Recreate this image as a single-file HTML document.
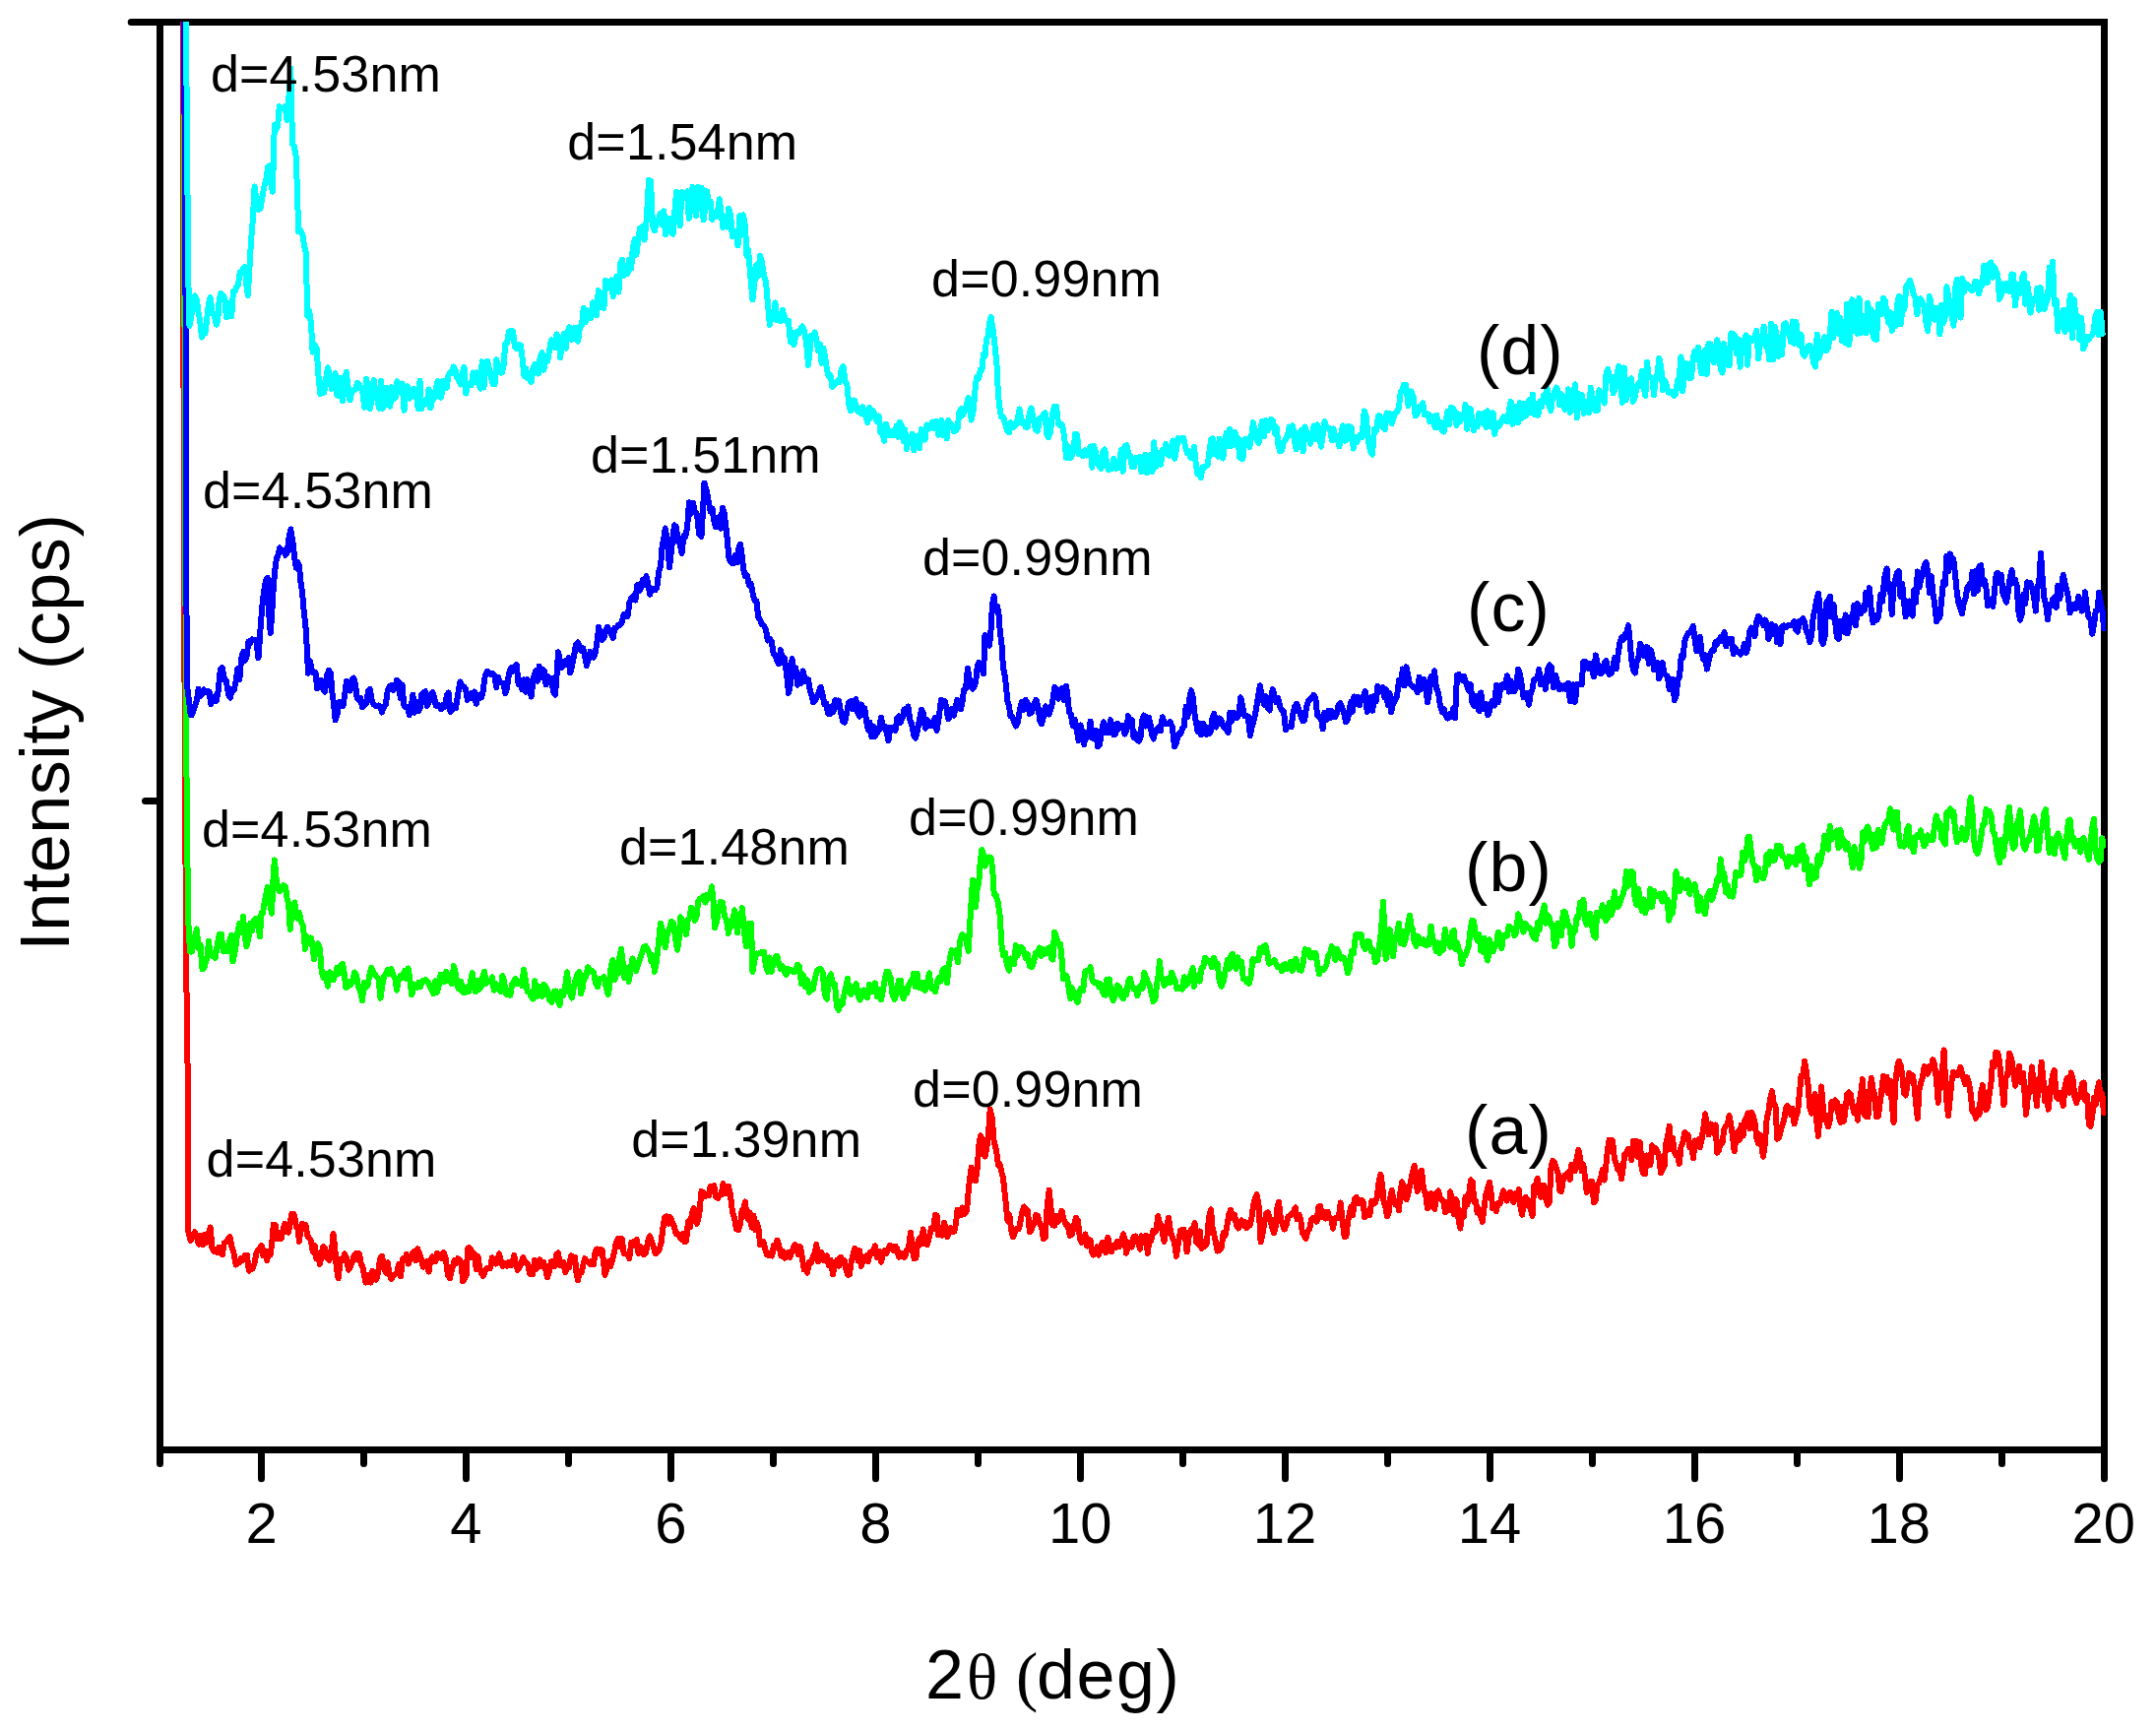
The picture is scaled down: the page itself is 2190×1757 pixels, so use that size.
<!DOCTYPE html>
<html lang="en">
<head>
<meta charset="utf-8">
<title>XRD patterns</title>
<style>
html,body{margin:0;padding:0;background:#fff;}
body{width:2190px;height:1757px;overflow:hidden;}
svg{display:block;}
text{font-family:"Liberation Sans",Arial,Helvetica,sans-serif;fill:#000;}
.ser{font-family:"Liberation Serif","Times New Roman",serif;}
</style>
</head>
<body>
<svg width="2190" height="1757" viewBox="0 0 2190 1757">
<rect width="2190" height="1757" fill="#fff"/>
<defs><clipPath id="plot"><rect x="166" y="22" width="1973" height="1447"/></clipPath></defs>
<g fill="none" stroke="#000" stroke-width="7" stroke-linecap="round" stroke-linejoin="miter">
<path d="M133.2,22.5 H2137.5 V1501.8" />
<path d="M162.5,22.5 V1486.5" />
<path d="M159.0,1472.5 H2137.5" stroke-linecap="butt"/>
<path d="M147.5,813.5 H162.5" />
<path d="M265.5,1472.5 V1501.8" />
<path d="M369.5,1472.5 V1486.5" />
<path d="M473.5,1472.5 V1501.8" />
<path d="M577.5,1472.5 V1486.5" />
<path d="M681.5,1472.5 V1501.8" />
<path d="M785.5,1472.5 V1486.5" />
<path d="M889.5,1472.5 V1501.8" />
<path d="M993.5,1472.5 V1486.5" />
<path d="M1097.5,1472.5 V1501.8" />
<path d="M1201.5,1472.5 V1486.5" />
<path d="M1305.5,1472.5 V1501.8" />
<path d="M1409.5,1472.5 V1486.5" />
<path d="M1513.5,1472.5 V1501.8" />
<path d="M1617.5,1472.5 V1486.5" />
<path d="M1721.5,1472.5 V1501.8" />
<path d="M1825.5,1472.5 V1486.5" />
<path d="M1929.5,1472.5 V1501.8" />
<path d="M2033.5,1472.5 V1486.5" />
</g>
<g fill="none" stroke-width="6" stroke-linejoin="round" stroke-linecap="round" shape-rendering="crispEdges" clip-path="url(#plot)">
<polyline points="185.9,20.0 186.2,300.0 187.8,780.0 189.4,1000.0 190.8,1100.0 191.2,1250.0 193.7,1260.0 198.0,1251.1 200.0,1257.1 202.0,1263.8 204.0,1254.9 206.0,1264.2 208.0,1253.6 210.0,1261.6 212.0,1252.7 213.7,1246.5 215.4,1267.1 217.1,1270.5 218.9,1268.6 220.6,1271.7 222.3,1267.1 224.0,1272.6 225.9,1274.1 227.8,1262.3 229.7,1261.2 231.6,1258.8 233.5,1255.8 235.5,1266.6 237.6,1273.3 239.6,1284.7 241.4,1280.7 243.3,1281.7 245.1,1277.9 247.0,1279.6 248.8,1275.1 250.8,1274.6 252.9,1290.6 254.9,1289.2 256.7,1288.2 258.5,1283.2 260.2,1273.5 262.0,1269.4 263.8,1267.8 265.6,1265.1 267.5,1275.4 269.3,1270.5 271.1,1280.1 273.0,1274.5 274.6,1274.6 276.2,1263.4 277.8,1243.5 279.7,1244.3 281.6,1258.4 283.6,1252.0 285.5,1258.3 287.3,1250.3 289.2,1242.7 291.0,1250.9 292.9,1251.7 294.7,1242.8 296.2,1232.8 297.8,1232.6 299.3,1235.2 300.8,1246.3 302.4,1245.5 303.9,1260.7 305.4,1249.8 307.0,1243.0 308.5,1247.6 310.4,1243.6 312.2,1255.0 314.1,1257.5 316.0,1260.2 317.8,1271.5 319.6,1265.0 321.4,1278.6 323.2,1273.5 325.0,1284.0 326.7,1272.3 328.3,1266.1 330.0,1267.2 332.2,1277.8 334.5,1279.8 336.5,1275.5 338.5,1253.0 340.2,1267.5 342.0,1289.6 343.7,1298.3 345.9,1279.1 348.0,1279.9 350.0,1273.4 352.0,1277.2 354.0,1289.6 356.0,1286.2 357.8,1281.6 359.6,1275.1 361.4,1273.0 363.2,1279.4 365.0,1273.2 366.6,1283.4 368.1,1285.4 369.7,1293.4 371.4,1302.6 373.1,1294.6 374.9,1296.7 376.6,1302.5 378.3,1290.8 380.0,1293.9 382.0,1299.7 384.0,1293.5 386.0,1278.6 388.0,1275.7 389.9,1285.9 391.9,1292.6 393.8,1282.3 395.7,1294.9 397.5,1299.2 399.4,1295.8 401.2,1294.0 403.0,1293.4 405.0,1284.1 407.0,1296.1 409.0,1278.4 411.0,1280.3 412.9,1273.8 414.8,1283.6 416.6,1279.1 418.5,1273.3 420.4,1270.8 422.2,1280.2 424.1,1268.1 426.0,1273.1 427.9,1279.0 429.8,1286.7 431.7,1284.9 433.6,1281.3 435.5,1291.5 437.2,1281.0 438.9,1276.3 440.6,1279.5 442.3,1281.3 444.0,1273.0 445.7,1273.7 447.4,1275.8 449.1,1278.2 450.8,1272.2 452.9,1279.1 454.9,1294.7 457.0,1298.1 459.2,1289.0 461.5,1280.2 463.2,1283.1 465.0,1278.2 466.8,1279.4 468.5,1282.2 470.2,1301.3 472.0,1298.8 473.6,1295.0 475.2,1267.7 476.8,1267.2 478.5,1269.2 480.3,1277.2 482.0,1273.4 483.8,1289.2 485.5,1276.1 487.3,1288.1 489.0,1292.9 490.8,1296.0 492.6,1291.0 494.4,1288.3 496.2,1287.9 498.0,1288.0 499.8,1277.2 501.6,1280.7 503.4,1283.5 505.2,1281.8 507.0,1273.3 509.0,1281.9 511.0,1285.9 513.0,1283.3 515.0,1285.8 516.8,1282.0 518.6,1284.9 520.4,1284.8 522.2,1274.7 524.0,1284.1 525.8,1289.9 527.6,1287.2 529.4,1283.8 531.2,1277.1 533.0,1280.6 534.6,1283.0 536.3,1283.6 538.0,1293.8 539.6,1287.1 541.3,1294.0 543.1,1279.7 544.8,1288.7 546.6,1285.2 548.3,1279.4 550.1,1286.5 551.8,1281.6 553.9,1287.7 555.9,1297.3 558.0,1291.6 559.8,1281.3 561.6,1282.9 563.4,1286.0 565.2,1273.8 567.0,1272.5 568.8,1285.2 570.6,1283.3 572.4,1281.8 574.2,1292.3 576.0,1286.1 578.0,1287.3 580.0,1275.4 582.0,1276.2 584.0,1276.8 585.5,1293.0 587.0,1300.4 588.8,1291.8 590.6,1292.3 592.4,1284.4 594.1,1278.1 595.9,1281.5 597.7,1281.5 599.4,1284.0 601.2,1280.7 602.9,1284.2 604.6,1271.2 606.3,1268.5 608.0,1272.7 609.8,1268.8 611.5,1269.4 613.0,1281.4 614.5,1294.9 616.4,1289.1 618.2,1281.3 620.1,1286.2 622.0,1279.8 624.0,1271.5 625.9,1261.6 627.8,1257.7 629.8,1266.4 631.7,1257.9 633.6,1273.0 635.6,1273.6 637.5,1273.8 639.3,1278.2 641.2,1261.8 643.0,1261.4 644.9,1264.7 646.7,1258.7 648.5,1272.8 650.4,1266.0 652.2,1268.2 654.0,1274.4 656.0,1272.7 658.0,1261.2 660.0,1255.2 661.9,1260.4 663.8,1266.7 665.8,1273.1 667.7,1271.7 669.6,1269.3 671.5,1262.5 673.3,1248.1 675.1,1236.0 677.0,1235.4 678.9,1242.6 680.8,1236.0 682.7,1240.8 684.6,1245.2 686.5,1252.8 688.2,1252.4 690.0,1255.1 691.8,1258.6 693.5,1253.1 695.2,1261.3 697.0,1260.7 699.0,1240.4 701.0,1246.5 703.0,1231.6 704.7,1227.0 706.3,1236.9 708.0,1242.9 710.2,1233.8 712.5,1209.9 714.3,1211.0 716.2,1215.4 718.0,1212.7 719.9,1214.2 721.7,1204.7 723.5,1210.0 725.4,1204.2 727.2,1215.7 729.0,1216.9 730.8,1214.3 732.7,1213.4 734.5,1202.1 736.3,1212.2 738.2,1211.4 740.0,1204.8 742.0,1213.9 744.0,1231.2 746.0,1237.1 748.0,1248.1 750.0,1249.2 752.0,1243.5 753.6,1229.1 755.3,1227.2 756.9,1220.5 758.5,1234.2 760.0,1238.6 761.8,1231.5 763.6,1246.7 765.4,1234.6 767.2,1249.1 769.0,1242.0 770.6,1249.0 772.1,1264.1 773.7,1262.8 775.5,1261.2 777.4,1269.3 779.2,1274.5 781.0,1275.1 782.6,1273.2 784.2,1275.5 785.9,1265.1 787.5,1267.0 789.5,1259.7 791.6,1266.3 793.6,1275.7 795.4,1270.8 797.1,1277.8 798.9,1275.2 800.7,1272.2 802.5,1277.0 804.2,1271.0 806.0,1267.3 807.5,1263.9 809.0,1266.1 811.0,1274.4 813.0,1266.1 815.0,1278.7 816.7,1289.4 818.3,1286.9 820.0,1292.7 821.9,1281.6 823.8,1282.6 825.6,1277.1 827.5,1272.9 829.3,1264.0 831.0,1281.4 832.8,1273.8 834.5,1272.2 836.3,1279.9 838.0,1276.1 839.8,1275.4 841.9,1285.0 843.9,1279.9 846.0,1294.1 848.2,1283.1 850.5,1279.6 852.2,1285.9 854.0,1276.8 855.8,1283.3 857.5,1279.8 859.2,1288.1 861.0,1294.8 862.8,1294.6 864.6,1282.4 866.4,1274.9 868.2,1268.0 870.0,1270.1 871.6,1280.6 873.2,1270.2 874.9,1285.8 876.5,1280.4 878.3,1277.0 880.0,1275.3 881.8,1281.3 883.5,1272.5 885.3,1270.9 887.0,1273.4 888.8,1265.4 890.9,1277.4 892.9,1270.6 895.0,1281.7 896.8,1274.0 898.6,1269.9 900.4,1272.8 902.2,1268.0 904.0,1264.9 905.8,1266.3 907.6,1270.3 909.4,1265.6 911.2,1268.3 913.0,1276.7 915.0,1276.4 917.0,1272.8 919.0,1276.9 921.0,1270.0 923.0,1267.9 925.0,1251.6 926.8,1269.1 928.6,1278.3 930.4,1277.8 932.2,1262.4 934.1,1257.5 935.9,1263.5 937.7,1248.5 939.8,1263.0 941.8,1264.0 943.9,1256.7 945.9,1247.2 948.0,1247.9 950.0,1233.5 951.5,1234.5 953.1,1253.9 954.6,1253.3 956.8,1254.7 959.0,1241.5 960.6,1247.2 962.2,1256.3 963.8,1252.7 965.6,1247.0 967.4,1251.1 969.2,1250.7 971.0,1242.9 972.6,1228.7 974.2,1232.7 975.9,1234.2 977.5,1226.5 979.8,1232.9 982.0,1229.8 983.6,1210.6 985.1,1197.0 986.7,1185.6 988.9,1195.3 991.0,1199.1 992.7,1185.9 994.3,1164.0 996.0,1153.2 998.2,1158.4 1000.5,1174.5 1002.2,1166.4 1004.0,1151.5 1005.7,1126.4 1007.7,1135.1 1009.7,1160.1 1011.9,1167.6 1014.0,1183.0 1015.6,1182.6 1017.3,1190.3 1018.9,1196.1 1021.1,1216.1 1023.4,1239.6 1025.3,1233.8 1027.2,1250.0 1029.1,1256.4 1031.0,1251.1 1033.0,1248.1 1035.0,1248.1 1037.0,1237.8 1038.6,1229.6 1040.2,1225.5 1041.8,1228.1 1043.9,1229.3 1046.0,1251.5 1047.6,1249.6 1049.2,1244.0 1050.9,1242.9 1052.5,1233.8 1054.3,1235.2 1056.2,1243.0 1058.0,1245.5 1059.9,1258.4 1061.7,1256.7 1063.7,1225.1 1065.7,1208.7 1067.6,1227.8 1069.4,1244.3 1071.2,1244.7 1073.0,1234.6 1074.9,1240.7 1076.7,1237.6 1078.5,1229.8 1080.6,1238.4 1082.6,1244.0 1084.7,1244.1 1086.8,1255.0 1089.0,1253.1 1091.0,1244.2 1093.0,1236.7 1095.0,1239.7 1097.0,1258.7 1098.8,1261.9 1100.6,1261.0 1102.4,1253.4 1104.2,1265.6 1106.0,1258.5 1107.6,1259.7 1109.1,1271.2 1110.7,1274.6 1112.5,1271.8 1114.4,1266.4 1116.2,1274.6 1118.1,1265.4 1119.9,1261.8 1121.7,1266.5 1123.5,1272.2 1125.4,1256.8 1127.2,1269.3 1129.0,1271.1 1130.9,1264.6 1132.8,1267.2 1134.8,1260.9 1136.7,1266.3 1138.8,1260.8 1141.0,1253.4 1142.5,1258.5 1144.0,1272.7 1145.9,1266.3 1147.8,1261.9 1149.7,1266.6 1151.6,1255.8 1153.5,1255.5 1155.8,1261.0 1158.0,1268.8 1159.6,1255.4 1161.1,1261.8 1162.7,1259.3 1164.2,1254.8 1165.8,1272.9 1167.5,1258.6 1169.3,1259.8 1171.0,1250.1 1172.8,1251.6 1174.5,1249.4 1176.3,1235.1 1178.0,1242.7 1179.5,1244.4 1181.1,1253.4 1182.6,1260.9 1184.8,1246.9 1187.0,1236.8 1189.0,1250.3 1191.0,1257.4 1192.9,1261.3 1194.9,1275.9 1196.9,1262.7 1199.0,1249.9 1201.0,1248.7 1202.5,1248.8 1204.1,1256.8 1205.6,1271.3 1207.8,1255.0 1210.0,1248.5 1211.8,1252.0 1213.5,1242.1 1215.2,1261.6 1217.0,1263.5 1218.8,1250.4 1220.5,1268.0 1222.2,1262.1 1224.0,1265.8 1226.0,1261.9 1228.0,1236.1 1230.0,1228.2 1231.5,1246.5 1233.1,1253.3 1234.6,1259.7 1236.7,1270.6 1238.7,1269.7 1240.8,1266.9 1242.6,1252.4 1244.5,1254.9 1246.3,1245.2 1248.2,1233.9 1250.0,1228.6 1252.0,1237.2 1254.0,1234.0 1256.0,1244.4 1257.7,1247.5 1259.4,1243.2 1261.1,1239.3 1262.9,1244.6 1264.6,1241.2 1266.3,1247.2 1268.0,1242.1 1269.7,1244.5 1271.3,1237.4 1273.0,1225.1 1274.8,1216.9 1276.6,1213.3 1278.4,1222.4 1280.6,1261.2 1282.4,1253.6 1284.3,1241.6 1286.2,1232.7 1288.0,1231.3 1290.0,1237.9 1292.0,1245.5 1294.0,1252.2 1295.7,1246.2 1297.3,1226.8 1299.0,1220.7 1300.9,1237.9 1302.8,1243.0 1304.7,1248.6 1306.6,1243.9 1308.4,1235.5 1310.3,1234.7 1312.2,1232.9 1314.0,1230.7 1315.8,1226.4 1317.6,1238.2 1319.4,1233.6 1321.1,1237.8 1322.9,1252.3 1324.7,1254.0 1326.5,1258.2 1328.3,1250.5 1330.2,1248.1 1332.0,1239.0 1333.9,1237.1 1335.7,1237.9 1337.5,1240.6 1339.3,1225.6 1341.2,1225.2 1343.0,1236.4 1344.8,1230.7 1346.6,1237.5 1348.5,1230.6 1350.3,1237.4 1352.2,1237.5 1354.0,1247.7 1355.9,1237.1 1357.8,1236.7 1359.8,1237.3 1361.7,1221.4 1363.7,1239.4 1365.7,1256.2 1367.4,1255.5 1369.1,1240.5 1370.7,1233.3 1372.4,1226.0 1374.2,1234.3 1375.9,1217.8 1377.7,1215.8 1379.5,1222.4 1381.2,1218.8 1383.0,1218.7 1384.6,1220.6 1386.1,1236.4 1387.7,1234.9 1389.5,1229.8 1391.4,1234.1 1393.2,1220.0 1395.1,1220.2 1396.9,1222.0 1398.7,1215.5 1400.6,1200.1 1402.4,1192.8 1404.1,1204.1 1405.7,1221.4 1407.3,1225.6 1409.0,1235.3 1410.6,1231.2 1412.1,1217.5 1413.7,1208.8 1415.5,1218.3 1417.3,1223.2 1419.2,1220.0 1421.0,1229.2 1422.5,1210.7 1424.0,1200.4 1425.6,1203.2 1427.2,1215.8 1428.9,1218.1 1430.5,1211.7 1432.6,1201.8 1434.6,1192.2 1436.7,1183.8 1438.2,1196.1 1439.7,1210.0 1441.8,1191.6 1444.0,1188.8 1446.0,1207.3 1448.0,1212.1 1450.0,1227.0 1451.8,1223.1 1453.7,1211.9 1455.5,1225.9 1457.3,1227.9 1459.2,1211.2 1461.0,1209.5 1462.8,1217.0 1464.5,1218.6 1466.2,1220.0 1468.0,1231.3 1469.8,1223.9 1471.5,1228.8 1473.2,1210.4 1475.0,1223.2 1476.7,1233.0 1478.3,1217.6 1480.0,1220.4 1481.7,1240.4 1483.3,1247.5 1485.0,1234.6 1486.8,1235.8 1488.6,1215.4 1490.4,1223.4 1492.2,1213.2 1494.0,1198.4 1495.7,1200.2 1497.3,1220.2 1499.0,1219.7 1500.7,1231.8 1502.3,1228.0 1504.0,1234.4 1505.8,1241.0 1507.6,1225.6 1509.4,1213.2 1511.2,1206.7 1513.0,1200.9 1514.7,1212.7 1516.3,1227.5 1518.0,1224.8 1519.8,1230.3 1521.6,1221.9 1523.4,1222.6 1525.2,1217.2 1527.0,1209.3 1528.8,1216.4 1530.5,1219.6 1532.2,1212.7 1534.0,1211.0 1535.8,1217.1 1537.5,1220.9 1539.2,1212.3 1541.0,1214.7 1542.7,1208.2 1544.5,1225.4 1546.2,1233.7 1547.9,1219.4 1549.6,1215.7 1551.3,1218.4 1553.1,1225.9 1554.8,1226.9 1556.5,1234.8 1558.2,1204.2 1560.0,1203.7 1561.7,1196.7 1563.4,1209.0 1565.1,1215.8 1566.8,1203.8 1568.6,1204.3 1570.3,1218.0 1572.0,1223.7 1573.8,1220.4 1575.6,1184.8 1577.4,1178.9 1579.1,1180.7 1580.8,1186.5 1582.6,1191.9 1584.3,1209.4 1586.0,1209.9 1587.8,1198.0 1589.5,1193.6 1591.2,1192.6 1593.0,1190.5 1594.7,1198.0 1596.4,1182.9 1598.1,1185.6 1599.9,1189.1 1601.6,1176.8 1603.3,1167.7 1605.0,1175.4 1606.7,1189.3 1608.3,1182.6 1610.0,1195.4 1611.8,1210.9 1613.6,1202.7 1615.4,1200.1 1617.2,1199.8 1619.0,1221.5 1620.8,1218.6 1622.5,1202.8 1624.3,1201.6 1626.0,1196.4 1627.8,1188.1 1629.5,1198.6 1631.2,1184.8 1632.9,1168.7 1634.6,1157.6 1636.3,1164.5 1638.0,1158.3 1639.8,1176.1 1641.6,1182.2 1643.4,1187.8 1645.2,1184.4 1647.0,1197.2 1648.7,1185.5 1650.3,1172.3 1652.0,1171.8 1653.8,1166.8 1655.5,1169.4 1657.3,1178.1 1659.1,1158.6 1660.8,1165.0 1662.6,1159.0 1664.3,1175.4 1666.0,1160.3 1667.6,1186.4 1669.3,1191.9 1671.0,1192.0 1672.8,1173.5 1674.6,1174.9 1676.4,1183.0 1678.1,1163.4 1679.9,1169.9 1681.7,1166.2 1683.5,1169.4 1685.2,1174.9 1687.0,1191.1 1688.7,1188.4 1690.5,1184.7 1692.2,1161.2 1694.0,1155.0 1695.7,1143.6 1697.3,1167.4 1699.0,1155.9 1700.7,1169.3 1702.3,1173.4 1704.0,1172.9 1705.8,1182.0 1707.6,1164.4 1709.4,1160.3 1711.2,1150.1 1713.0,1152.0 1714.8,1152.6 1716.5,1165.6 1718.3,1163.4 1720.0,1176.4 1721.7,1158.5 1723.5,1160.8 1725.2,1157.3 1726.9,1165.2 1728.7,1156.4 1730.4,1144.6 1732.1,1131.3 1733.8,1142.2 1735.6,1152.3 1737.3,1141.4 1739.0,1150.4 1740.8,1151.3 1742.5,1142.4 1744.3,1170.7 1746.0,1168.5 1747.8,1159.7 1749.5,1161.0 1751.3,1146.9 1753.0,1143.6 1754.8,1142.3 1756.5,1133.1 1758.2,1141.9 1760.0,1153.8 1761.7,1169.2 1763.5,1155.7 1765.2,1149.2 1767.0,1158.0 1768.7,1142.6 1770.5,1153.6 1772.2,1138.6 1774.0,1134.9 1775.7,1130.4 1777.4,1146.1 1779.2,1129.8 1780.9,1133.9 1782.6,1140.7 1784.3,1155.5 1786.0,1161.2 1787.6,1152.3 1789.3,1163.0 1791.0,1174.8 1792.8,1161.3 1794.6,1136.8 1796.4,1128.9 1798.2,1115.6 1800.0,1108.1 1801.8,1121.5 1803.5,1123.6 1805.2,1156.6 1807.0,1155.6 1808.8,1148.1 1810.5,1142.9 1812.2,1137.3 1814.0,1125.9 1815.7,1122.9 1817.4,1125.7 1819.2,1132.0 1820.9,1125.8 1822.6,1141.3 1824.3,1134.7 1826.1,1129.0 1827.8,1111.0 1829.6,1092.5 1831.3,1093.2 1833.1,1077.9 1834.8,1088.2 1836.5,1101.4 1838.3,1124.5 1840.0,1130.6 1841.8,1120.2 1843.5,1111.1 1845.2,1137.8 1847.0,1153.8 1848.5,1131.6 1850.0,1103.4 1851.8,1124.3 1853.5,1137.4 1855.2,1137.7 1857.0,1144.1 1858.8,1137.3 1860.5,1119.2 1862.2,1125.3 1864.0,1117.3 1865.9,1119.7 1867.7,1133.1 1869.6,1140.1 1871.3,1123.6 1873.0,1138.9 1874.6,1126.5 1876.3,1111.1 1878.0,1109.4 1879.8,1111.6 1881.6,1123.7 1883.4,1130.2 1885.2,1124.1 1887.0,1137.6 1888.7,1118.0 1890.3,1110.3 1892.0,1096.0 1893.8,1132.3 1895.6,1134.3 1897.4,1134.5 1899.1,1110.1 1900.9,1094.8 1902.6,1107.1 1904.3,1111.0 1906.0,1134.0 1907.8,1133.7 1909.5,1121.3 1911.2,1107.9 1913.0,1092.5 1914.8,1106.7 1916.5,1093.7 1918.2,1110.3 1920.0,1097.5 1921.8,1120.2 1923.5,1140.0 1925.2,1101.4 1927.0,1084.1 1928.8,1077.6 1930.5,1081.6 1932.2,1090.6 1934.0,1110.3 1935.7,1112.4 1937.4,1102.0 1939.2,1089.8 1940.9,1096.2 1942.6,1091.8 1944.3,1100.1 1946.1,1120.0 1947.8,1135.9 1949.5,1106.8 1951.3,1098.9 1953.0,1093.6 1954.8,1083.0 1956.5,1087.5 1958.2,1090.6 1960.0,1082.8 1961.7,1085.2 1963.3,1076.2 1965.0,1080.9 1966.8,1094.6 1968.7,1119.8 1970.7,1090.3 1972.6,1091.1 1974.6,1066.4 1976.8,1113.4 1979.0,1133.3 1980.7,1116.2 1982.3,1099.7 1984.0,1088.6 1985.8,1091.2 1987.6,1092.3 1989.4,1091.4 1991.2,1083.8 1993.0,1089.9 1994.8,1096.6 1996.5,1101.4 1998.2,1094.2 2000.0,1100.0 2001.8,1111.3 2003.5,1128.8 2005.2,1127.7 2007.0,1136.0 2008.8,1127.0 2010.5,1132.3 2012.2,1110.1 2014.0,1102.0 2015.7,1118.3 2017.3,1127.5 2019.0,1124.7 2020.7,1110.9 2022.3,1101.6 2024.0,1079.2 2025.8,1083.2 2027.5,1068.7 2029.2,1069.2 2031.0,1077.3 2033.2,1100.8 2035.5,1122.2 2037.3,1093.9 2039.2,1092.6 2041.0,1069.9 2043.0,1074.3 2045.0,1087.5 2047.0,1102.6 2049.0,1092.0 2051.0,1082.5 2053.0,1099.3 2055.0,1089.6 2056.5,1109.6 2058.0,1131.8 2060.0,1111.6 2062.0,1108.3 2064.0,1083.4 2065.7,1103.7 2067.3,1109.4 2069.0,1123.2 2070.6,1096.1 2072.1,1102.6 2073.7,1078.6 2075.4,1096.1 2077.2,1118.5 2078.9,1105.4 2080.7,1126.7 2082.8,1106.8 2085.0,1091.7 2086.8,1087.2 2088.6,1113.5 2090.3,1116.1 2092.1,1109.8 2093.9,1113.4 2095.7,1122.8 2097.7,1102.5 2099.7,1094.7 2101.7,1109.8 2103.7,1089.5 2105.6,1097.2 2107.4,1113.7 2109.3,1120.0 2111.1,1112.1 2113.0,1114.2 2114.8,1100.7 2116.5,1099.5 2118.2,1117.3 2120.0,1112.1 2121.8,1141.8 2123.5,1144.1 2125.2,1134.0 2126.9,1114.9 2128.7,1122.0 2130.4,1107.3 2132.1,1099.2 2133.7,1116.4 2135.3,1111.0 2137.0,1129.9" stroke="#ff0000"/>
<polyline points="187.2,20.0 187.4,300.0 188.8,700.0 190.0,850.0 191.5,940.0 193.0,966.5 195.0,966.5 199.8,943.5 201.7,962.8 203.6,959.6 205.5,984.2 207.4,983.2 208.9,976.7 210.5,973.0 212.0,955.9 213.5,968.7 215.1,970.6 216.6,968.1 218.6,973.0 220.7,960.0 222.7,949.1 224.8,948.9 226.8,966.3 228.9,964.2 230.9,966.0 233.0,956.6 235.0,949.6 236.5,976.4 238.8,965.8 241.0,949.1 243.0,938.1 245.0,947.0 247.0,930.9 248.7,950.5 250.3,961.5 252.2,954.0 254.2,937.7 256.1,945.4 258.0,934.5 260.0,932.6 262.0,935.9 264.0,951.3 265.5,927.9 267.0,927.9 268.6,916.5 270.1,909.5 271.7,901.1 273.9,916.0 276.0,927.8 277.4,895.3 278.8,873.4 280.6,891.5 282.4,903.0 284.3,905.4 286.2,902.9 288.1,899.2 290.0,900.7 291.6,912.9 293.1,917.4 294.7,944.0 296.2,928.9 297.8,923.3 299.3,916.5 300.8,929.2 302.4,932.7 303.9,926.8 305.9,935.8 308.0,940.8 310.0,964.0 312.0,951.4 314.0,956.9 316.0,952.5 317.5,961.4 319.0,974.3 321.0,965.4 323.0,958.2 325.0,963.8 326.8,988.0 328.9,992.9 330.9,989.0 333.0,1001.9 334.9,987.3 336.8,990.7 338.7,995.3 340.6,989.2 342.5,982.6 344.3,988.8 346.1,980.2 348.0,978.9 349.6,987.5 351.2,1002.7 352.8,1002.4 354.6,997.1 356.5,999.7 358.3,995.7 360.2,987.5 362.0,990.8 364.0,1002.4 366.0,1006.2 368.0,1016.4 369.8,997.9 371.6,1003.0 373.4,1001.2 375.3,990.8 377.1,982.9 378.9,986.9 380.8,989.7 382.7,992.4 384.6,993.8 386.5,1013.7 388.3,1001.2 390.2,991.8 392.0,988.9 393.9,984.9 395.7,988.7 397.5,983.9 399.4,991.0 401.2,992.7 403.0,1005.7 405.0,994.1 407.0,990.8 409.0,992.5 411.0,986.1 412.8,993.9 414.6,983.4 416.4,995.7 418.2,1010.5 420.0,1004.3 421.8,1000.1 423.6,1002.8 425.4,997.6 427.2,1002.0 429.0,996.2 430.9,996.3 432.8,995.0 434.7,997.6 436.6,1001.3 438.5,1004.7 440.3,1009.3 442.2,996.2 444.0,1007.8 445.9,999.9 447.7,989.6 449.6,994.6 451.4,997.3 453.3,986.6 455.1,996.1 457.0,992.3 459.0,999.3 461.0,981.1 463.0,989.3 464.8,1002.5 466.6,1004.5 468.4,997.1 470.2,1007.9 472.0,1008.4 474.0,1002.8 476.0,1007.3 478.0,997.2 479.7,988.2 481.3,999.6 483.0,1007.4 484.8,995.9 486.6,1004.9 488.4,1003.1 490.2,992.6 492.0,986.6 493.6,999.0 495.1,996.3 496.7,996.9 498.4,995.2 500.1,992.5 501.8,1005.8 503.5,998.9 505.2,1002.3 506.9,1004.3 508.6,1007.1 510.3,991.1 512.0,996.1 513.5,1008.5 515.1,1010.2 516.6,1007.9 518.3,1010.6 520.1,999.9 521.8,997.7 523.5,994.0 525.3,999.1 527.0,997.4 528.7,996.4 530.3,1001.4 532.0,984.5 533.9,995.2 535.8,1007.3 537.7,1008.0 539.6,1012.3 541.5,1014.4 543.3,996.4 545.1,1012.0 547.0,1001.9 548.8,1008.7 550.7,1011.7 552.5,999.7 554.3,1001.7 556.2,1006.5 558.0,1015.5 560.2,1018.0 562.5,1007.1 564.5,1006.4 566.6,1015.8 568.6,1020.9 570.5,1006.8 572.3,1011.2 574.1,1002.2 576.0,987.3 577.7,1002.0 579.3,1009.0 581.0,1013.5 583.0,1001.4 585.0,993.6 587.0,988.4 588.5,987.1 590.1,1009.5 591.6,1004.0 593.5,991.2 595.3,991.8 597.1,982.3 599.0,984.5 601.0,986.1 603.0,987.5 605.0,998.0 607.0,1002.1 609.2,994.1 611.5,994.1 613.5,992.1 615.6,1001.8 617.6,1009.8 619.2,1003.1 620.7,980.5 622.5,974.9 624.4,995.4 626.2,989.0 628.0,988.2 629.5,971.3 631.0,963.9 632.8,978.0 634.5,993.4 636.5,982.9 638.6,996.8 640.6,985.0 642.5,973.4 644.4,980.2 646.2,986.0 648.1,979.4 650.0,974.4 652.0,968.3 654.0,961.8 656.0,961.1 657.8,964.3 659.6,967.4 661.4,976.4 663.2,970.4 665.0,986.9 667.0,975.8 669.0,957.7 671.0,937.6 672.6,943.9 674.2,947.5 675.8,962.3 677.9,948.4 679.9,943.1 682.0,935.6 684.0,937.3 686.0,952.6 688.0,964.8 689.5,954.8 691.1,931.4 692.6,934.0 694.8,942.1 697.0,949.0 698.7,934.6 700.3,932.4 702.0,921.8 704.0,923.5 706.0,935.0 707.6,930.1 709.2,915.5 710.9,913.1 712.5,912.2 714.5,910.1 716.6,916.5 718.6,908.6 720.8,911.7 723.0,900.4 724.5,914.3 726.0,942.3 728.0,936.5 730.0,925.1 732.0,915.5 734.0,916.9 736.0,930.8 738.0,934.5 740.0,948.0 742.0,935.3 744.0,940.3 746.0,924.4 747.5,930.4 749.0,947.2 750.6,933.5 752.2,938.5 753.8,922.2 755.9,947.1 758.0,961.5 759.7,959.8 761.3,937.7 763.0,937.8 764.5,987.1 766.4,975.0 768.2,968.4 770.1,968.6 772.0,968.0 774.0,966.8 776.0,966.9 778.0,981.2 779.9,986.8 781.8,972.5 783.7,987.0 785.6,977.1 787.5,972.3 789.3,970.8 791.2,979.2 793.0,984.4 794.9,981.5 796.7,986.8 798.6,989.8 800.4,983.7 802.3,986.3 804.1,985.2 806.0,987.0 808.0,986.6 810.0,979.6 812.0,981.8 814.0,999.2 816.0,990.0 818.0,1002.2 819.9,995.0 821.8,1007.7 823.7,999.6 825.6,1004.9 827.5,995.3 829.6,986.6 831.6,984.5 833.7,984.1 835.7,987.7 837.8,1010.3 839.8,1014.6 841.9,994.1 844.0,989.4 846.0,999.9 848.0,999.2 850.0,1022.1 852.0,1025.9 853.8,1016.9 855.6,1019.9 857.4,1010.6 859.2,1002.7 861.0,993.6 862.8,1008.2 864.6,1009.7 866.4,1002.5 868.1,1003.3 869.9,999.2 871.7,1012.2 873.5,1015.5 875.4,1008.7 877.3,1005.5 879.2,1010.9 881.1,1013.4 883.1,999.8 885.0,1000.9 886.9,1007.0 888.8,998.4 890.9,1012.3 892.9,1005.3 895.0,1015.3 896.9,1005.8 898.8,994.8 900.6,986.6 902.5,987.1 904.6,993.2 906.6,1010.2 908.7,1014.9 910.7,1008.6 912.8,996.1 914.8,995.6 916.3,1009.4 917.8,1014.2 919.5,1004.1 921.2,1008.8 923.0,1000.8 924.7,997.0 926.4,998.0 928.1,988.6 929.9,1002.0 931.6,988.8 933.6,1003.0 935.7,1003.7 937.7,998.1 939.8,1006.0 941.8,999.2 943.9,988.3 945.9,1003.7 948.0,1003.6 950.0,1007.3 951.9,997.4 953.8,993.1 955.7,996.5 957.6,985.1 959.8,983.3 962.0,998.5 963.6,981.1 965.2,972.2 966.8,965.0 968.9,967.9 970.9,965.6 973.0,977.3 975.2,955.2 977.5,948.9 979.6,950.8 981.6,955.9 983.7,966.1 985.9,926.6 988.0,893.6 989.5,902.3 991.0,921.5 992.6,902.6 994.2,897.0 995.8,873.7 997.4,863.1 999.0,868.0 1000.5,879.7 1002.5,874.4 1004.6,870.5 1006.6,871.1 1008.2,883.0 1009.7,908.1 1011.7,909.4 1013.8,916.5 1015.8,931.3 1017.3,958.3 1018.9,969.9 1020.9,967.7 1023.0,980.6 1025.0,985.8 1026.7,973.5 1028.4,975.9 1030.1,979.2 1031.9,960.1 1033.6,970.7 1035.3,966.3 1037.0,961.8 1038.6,963.2 1040.2,967.3 1041.8,972.8 1043.9,969.5 1045.9,981.1 1048.0,982.4 1050.0,977.3 1052.0,967.6 1054.0,969.2 1055.8,962.5 1057.6,971.0 1059.4,963.7 1061.2,968.8 1063.0,966.5 1064.6,962.7 1066.2,962.1 1067.8,973.0 1069.4,974.4 1071.0,946.9 1073.0,951.3 1075.0,958.9 1077.0,958.6 1078.5,973.3 1080.0,994.0 1081.8,992.6 1083.6,991.2 1085.4,1001.7 1087.2,1014.0 1089.0,1003.4 1090.8,1011.6 1092.7,1013.1 1094.6,1018.2 1096.5,1006.2 1098.4,1003.5 1100.2,1005.9 1102.1,987.0 1103.9,985.5 1105.8,986.1 1107.6,982.2 1109.8,996.6 1112.0,998.3 1114.0,997.6 1116.0,1001.8 1117.9,999.2 1119.9,1006.7 1121.4,1010.3 1123.0,1010.6 1124.5,994.7 1126.8,994.4 1129.0,1011.4 1130.9,1016.1 1132.8,1010.4 1134.8,1000.5 1136.7,1002.4 1138.8,1011.2 1141.0,1014.4 1142.6,1005.9 1144.3,1010.0 1145.9,996.8 1147.9,993.7 1150.0,1002.6 1152.0,1004.9 1153.7,1004.4 1155.4,1011.1 1157.1,1002.3 1158.9,1000.9 1160.6,1003.9 1162.3,987.9 1164.0,992.5 1165.9,997.3 1167.8,1001.1 1169.6,1008.5 1171.5,1017.1 1173.4,1015.0 1174.9,1000.8 1176.5,991.5 1178.0,976.1 1179.5,993.5 1181.1,993.8 1182.6,1000.9 1184.4,995.5 1186.3,993.6 1188.1,998.1 1190.0,987.9 1191.8,992.0 1193.6,996.2 1195.5,1004.3 1197.3,1002.9 1199.2,1003.8 1201.0,1004.7 1202.8,992.2 1204.6,1000.8 1206.4,998.4 1208.2,993.7 1210.0,987.6 1211.5,983.2 1213.0,1001.8 1214.9,992.0 1216.8,990.5 1218.6,996.5 1220.5,983.5 1222.4,981.5 1224.1,972.8 1225.9,975.4 1227.6,976.0 1229.4,976.1 1231.1,982.3 1232.9,972.8 1234.6,977.7 1236.7,978.6 1238.7,996.6 1240.8,1001.7 1242.9,995.9 1244.9,985.1 1247.0,975.0 1248.7,984.0 1250.4,970.4 1252.1,968.9 1253.9,977.2 1255.6,983.8 1257.3,972.3 1259.0,979.3 1261.0,976.9 1262.9,994.2 1264.8,994.2 1266.8,997.6 1268.7,999.1 1270.6,991.2 1272.5,974.2 1274.4,975.9 1276.2,974.1 1278.1,975.2 1279.9,962.9 1281.8,967.4 1283.6,961.2 1285.4,960.1 1287.3,968.5 1289.1,978.7 1291.0,976.7 1292.8,977.2 1294.6,975.1 1296.5,979.6 1298.3,982.3 1300.2,981.6 1302.0,986.1 1303.8,980.1 1305.6,979.0 1307.4,984.1 1309.2,980.7 1311.0,977.0 1312.8,986.0 1314.6,982.7 1316.4,973.9 1318.2,981.2 1320.0,985.2 1321.9,985.6 1323.8,977.0 1325.7,963.9 1327.6,967.2 1329.5,965.0 1331.3,972.6 1333.0,969.3 1334.8,968.2 1336.5,968.1 1338.3,981.0 1340.0,989.5 1341.8,984.1 1343.6,985.4 1345.5,983.8 1347.3,980.0 1349.2,970.3 1351.0,968.5 1352.8,961.2 1354.6,965.0 1356.4,975.0 1358.2,963.6 1360.0,968.3 1361.8,973.5 1363.6,972.3 1365.4,973.0 1367.2,979.0 1369.0,988.2 1370.8,983.3 1372.9,965.8 1374.9,968.3 1377.0,949.3 1378.9,948.6 1380.8,952.0 1382.7,949.0 1384.6,960.7 1386.6,963.7 1388.7,956.0 1390.7,956.0 1392.8,966.0 1394.8,965.1 1396.9,977.1 1398.9,975.9 1401.0,961.5 1403.0,944.8 1405.0,916.1 1407.6,974.0 1409.8,962.8 1412.0,944.0 1413.5,962.5 1415.0,971.3 1417.0,952.5 1419.0,949.8 1421.0,937.5 1422.7,957.7 1424.3,946.1 1426.0,959.3 1428.0,953.3 1430.0,940.5 1432.0,929.5 1433.6,940.9 1435.1,943.4 1436.7,956.9 1438.5,960.7 1440.3,950.6 1442.2,953.8 1444.0,958.0 1445.8,954.4 1447.7,959.6 1449.7,959.7 1451.6,959.4 1453.5,940.6 1455.2,953.0 1457.0,957.0 1458.8,966.2 1460.6,957.3 1462.4,968.1 1464.2,957.6 1466.0,964.8 1467.8,943.8 1469.6,957.9 1471.4,951.7 1473.2,961.7 1475.0,946.8 1476.7,944.8 1478.3,963.9 1480.0,958.0 1481.7,964.3 1483.3,967.0 1485.0,979.3 1486.7,970.8 1488.4,970.7 1490.1,965.4 1491.9,960.5 1493.6,944.3 1495.3,934.8 1497.0,935.0 1498.8,950.0 1500.6,954.7 1502.4,949.1 1504.2,965.3 1506.0,966.5 1507.8,952.7 1509.6,971.3 1511.3,975.5 1513.1,954.2 1514.8,961.1 1516.6,966.3 1518.3,961.0 1520.0,959.8 1521.8,946.6 1523.5,949.3 1525.3,963.3 1527.0,950.0 1528.9,949.5 1530.8,950.5 1532.7,940.6 1534.6,942.1 1536.4,942.6 1538.3,950.1 1540.2,947.5 1542.1,928.3 1544.0,934.8 1545.8,942.0 1547.6,946.5 1549.4,937.7 1551.2,941.0 1553.0,942.0 1554.8,943.3 1556.6,949.9 1558.4,952.9 1560.2,953.8 1562.0,936.8 1563.7,944.4 1565.3,932.9 1567.0,927.1 1568.7,919.5 1570.3,937.6 1572.0,929.1 1573.8,932.6 1575.5,939.7 1577.2,940.0 1579.0,961.2 1580.8,957.7 1582.5,937.7 1584.3,943.6 1586.1,950.0 1587.8,926.3 1589.6,926.2 1591.3,932.0 1593.0,940.1 1594.8,941.3 1596.5,960.7 1598.2,943.4 1599.9,945.7 1601.6,931.2 1603.3,931.9 1605.0,917.2 1606.7,927.7 1608.4,913.9 1610.1,934.9 1611.9,938.9 1613.6,930.7 1615.3,927.6 1617.0,939.8 1618.8,949.7 1620.6,952.4 1622.3,926.5 1624.1,928.7 1625.9,930.4 1627.7,919.3 1629.5,931.8 1631.2,935.0 1633.0,932.2 1634.8,916.7 1636.5,929.4 1638.3,924.0 1640.0,905.4 1641.8,921.4 1643.5,921.2 1645.2,917.7 1647.0,912.2 1648.7,907.6 1650.4,901.6 1652.0,885.2 1653.7,899.8 1655.3,892.4 1657.0,885.0 1658.8,886.3 1660.6,912.1 1662.4,918.9 1664.2,903.0 1666.0,914.6 1667.8,925.0 1669.5,913.4 1671.2,927.4 1673.0,915.7 1674.8,921.2 1676.5,902.8 1678.2,920.7 1680.0,904.7 1681.8,909.6 1683.5,910.2 1685.2,908.0 1686.9,908.1 1688.6,915.6 1690.2,907.4 1691.9,912.4 1693.6,913.8 1695.3,934.8 1697.0,925.4 1698.9,927.6 1700.7,912.7 1702.6,885.2 1704.3,900.4 1706.0,905.3 1707.7,892.7 1709.4,895.3 1711.2,901.9 1712.9,898.6 1714.6,894.2 1716.3,908.0 1718.0,899.9 1719.8,903.9 1721.5,898.0 1723.2,909.2 1725.0,925.2 1726.8,911.3 1728.5,916.1 1730.2,924.8 1732.0,928.4 1733.8,912.0 1735.5,907.1 1737.3,904.8 1739.0,914.0 1740.8,907.4 1742.5,902.0 1744.3,893.0 1746.0,894.7 1747.8,872.5 1749.5,887.3 1751.3,886.8 1753.0,906.4 1754.8,899.2 1756.5,909.9 1758.2,910.0 1759.9,910.7 1761.6,901.3 1763.3,885.7 1765.0,887.9 1766.7,889.3 1768.4,888.5 1770.1,866.0 1771.9,874.2 1773.6,869.5 1775.3,850.4 1777.0,849.8 1778.8,866.0 1780.5,876.5 1782.2,879.0 1784.0,894.5 1785.8,881.5 1787.5,890.2 1789.2,886.9 1791.0,892.3 1792.8,887.1 1794.5,868.1 1796.2,878.1 1798.0,864.6 1799.8,872.7 1801.5,874.3 1803.2,872.6 1805.0,858.6 1806.8,867.2 1808.5,859.3 1810.3,869.4 1812.0,870.4 1813.8,871.7 1815.6,880.3 1817.3,869.5 1819.1,875.6 1820.8,871.0 1822.6,875.1 1824.3,878.1 1826.1,861.5 1827.8,873.8 1829.6,860.1 1831.3,858.6 1833.0,883.1 1834.6,870.1 1836.3,884.2 1838.0,898.5 1839.7,879.4 1841.4,892.7 1843.1,884.6 1844.9,890.9 1846.6,869.1 1848.3,878.1 1850.0,871.2 1851.8,862.4 1853.5,848.7 1855.2,853.0 1857.0,862.7 1858.8,838.9 1860.5,852.7 1862.2,847.2 1864.0,847.1 1865.8,843.6 1867.6,861.2 1869.4,842.8 1871.2,853.6 1873.0,853.7 1874.8,862.5 1876.5,856.5 1878.3,863.1 1880.0,866.9 1881.8,881.3 1883.5,860.2 1885.2,869.1 1887.0,867.7 1888.7,881.8 1890.4,875.6 1892.2,845.4 1893.9,854.9 1895.6,842.0 1897.3,839.5 1899.1,846.5 1900.8,855.1 1902.5,862.1 1904.3,847.4 1906.0,860.7 1907.8,842.9 1909.5,846.1 1911.3,856.1 1913.0,844.5 1914.8,837.4 1916.5,834.4 1918.2,833.5 1919.9,821.3 1921.6,833.9 1923.3,842.6 1925.0,825.0 1926.8,824.9 1928.6,847.2 1930.4,859.4 1932.2,856.2 1934.0,859.6 1935.5,856.8 1937.0,843.0 1938.8,839.2 1940.5,859.5 1942.2,857.6 1944.0,865.4 1945.8,849.6 1947.5,847.8 1949.2,850.4 1951.0,843.2 1952.8,853.5 1954.5,859.4 1956.2,857.1 1958.0,848.4 1959.8,850.9 1961.6,853.2 1963.3,853.2 1965.1,838.1 1966.9,828.5 1968.7,838.0 1970.5,836.0 1972.2,851.4 1974.0,854.5 1975.8,857.5 1977.5,825.0 1979.2,828.4 1981.0,821.4 1982.7,828.8 1984.4,824.5 1986.1,843.6 1987.8,855.2 1989.5,849.7 1991.3,852.2 1993.0,841.1 1994.8,844.4 1996.5,853.1 1998.2,845.6 2000.0,822.8 2001.7,810.1 2003.5,825.5 2005.2,853.5 2007.0,864.1 2008.8,866.7 2010.5,860.8 2012.2,850.7 2014.0,837.6 2015.8,836.7 2017.5,821.9 2019.2,824.3 2021.0,824.1 2022.7,829.3 2024.4,844.7 2026.1,846.7 2027.8,860.1 2029.5,870.8 2031.3,876.2 2033.0,853.1 2034.8,870.1 2036.9,853.4 2038.9,832.1 2041.0,819.6 2043.0,850.6 2045.0,861.7 2046.8,858.5 2048.5,836.1 2050.2,833.4 2052.0,823.1 2053.7,844.3 2055.3,857.7 2057.0,862.8 2058.8,853.8 2060.6,853.9 2062.4,847.5 2064.2,839.9 2066.0,829.3 2067.7,837.2 2069.3,864.3 2071.0,862.9 2072.8,843.0 2074.5,840.6 2076.2,826.2 2078.0,822.1 2079.8,844.7 2081.7,866.0 2083.4,852.0 2085.2,860.2 2086.9,867.3 2088.7,851.0 2090.4,846.5 2092.2,851.7 2093.9,855.6 2095.7,864.2 2097.4,871.6 2099.2,850.3 2101.0,834.1 2102.7,832.5 2104.4,853.2 2106.1,850.7 2107.8,859.8 2109.6,856.7 2111.3,853.6 2113.1,865.6 2114.8,856.0 2116.5,851.0 2118.2,858.4 2120.0,864.9 2121.7,872.9 2123.5,856.1 2125.2,840.6 2127.0,831.5 2128.7,864.2 2130.4,871.8 2132.1,875.5 2133.7,873.6 2135.3,851.4 2137.0,858.5" stroke="#00ff00"/>
<polyline points="187.0,20.0 188.5,300.0 189.2,600.0 190.5,700.0 193.7,726.0 195.0,726.0 199.8,711.8 201.6,699.6 203.5,707.1 205.3,704.5 207.2,700.4 209.0,703.2 210.8,701.6 212.6,702.6 214.3,715.1 216.1,711.5 217.9,707.4 219.7,712.1 221.7,701.6 223.8,680.4 225.8,678.1 227.9,689.9 229.9,691.9 232.0,705.1 233.9,708.6 235.8,699.7 237.7,700.7 239.6,691.7 241.4,679.0 243.3,689.9 245.2,668.3 247.0,662.1 248.8,670.9 250.7,665.9 252.5,651.3 254.3,653.2 256.2,649.5 258.0,650.3 260.2,650.4 262.5,668.2 264.8,635.0 267.0,608.7 268.6,597.4 270.1,589.7 271.7,586.7 273.2,623.4 274.8,642.9 276.3,622.1 277.9,593.9 279.4,578.5 280.9,567.3 282.5,564.2 284.0,556.4 286.0,558.4 288.0,559.0 290.0,563.9 291.8,560.3 293.5,546.7 295.3,537.5 297.3,549.6 299.3,567.4 300.8,576.7 302.4,571.2 303.9,574.7 305.4,591.0 307.0,601.3 308.5,618.8 310.8,640.2 313.0,683.7 315.0,671.3 317.0,682.8 319.0,682.4 320.6,683.5 322.2,699.1 323.8,697.5 325.9,690.8 327.9,699.5 330.0,702.7 332.0,686.1 334.0,680.9 336.0,684.0 337.5,703.9 339.1,714.9 340.6,731.2 342.6,725.1 344.7,713.1 346.7,714.6 348.5,717.0 350.3,704.3 352.0,692.0 353.8,696.5 355.6,701.5 357.4,690.6 359.2,688.6 360.9,694.3 362.7,708.9 364.5,711.2 366.2,708.6 368.0,718.2 370.0,716.0 372.0,714.0 374.0,701.8 375.8,699.9 377.5,710.1 379.2,715.1 381.0,716.6 382.8,716.9 384.5,716.4 386.2,717.5 388.0,723.5 389.9,717.9 391.9,715.2 393.8,700.8 395.7,697.5 397.5,695.8 399.4,700.8 401.2,699.4 403.1,690.7 404.9,692.4 406.7,708.8 408.5,695.5 410.4,716.9 412.2,718.1 414.0,717.7 415.8,726.4 417.6,719.6 419.4,705.6 421.2,723.7 423.0,712.7 424.8,722.2 426.5,719.7 428.3,705.6 430.1,703.1 431.9,702.2 433.7,716.9 435.5,713.7 437.3,705.4 439.2,703.1 441.0,708.1 442.8,716.8 444.6,715.6 446.5,718.1 448.3,720.2 450.1,715.9 452.0,717.5 453.8,706.0 455.6,703.4 457.5,722.9 459.3,720.5 461.2,717.1 463.0,719.3 464.5,709.4 466.1,699.4 467.6,692.4 469.5,696.8 471.3,697.2 473.1,700.2 475.0,711.0 476.7,705.5 478.5,703.9 480.2,709.2 481.9,702.5 483.7,714.8 485.4,708.7 487.1,706.0 488.9,708.5 490.6,702.0 492.8,685.8 495.0,681.8 496.8,683.8 498.7,685.4 500.5,684.3 502.3,686.4 504.2,698.0 506.0,687.5 507.8,693.2 509.6,693.7 511.4,693.6 513.2,704.3 515.0,698.8 517.0,684.2 519.0,678.4 521.0,681.8 522.9,676.7 524.7,674.9 526.6,694.7 528.4,691.0 530.3,700.0 532.2,690.2 534.0,702.6 535.9,690.0 537.7,696.7 539.6,707.6 541.1,694.2 542.6,685.9 544.3,681.4 546.0,691.9 547.7,676.6 549.4,688.1 551.2,680.1 552.9,681.0 554.6,695.3 556.3,686.9 558.0,692.1 560.0,688.9 562.0,702.0 564.0,705.7 565.5,685.8 567.0,662.3 568.8,670.2 570.5,677.8 572.2,676.6 574.0,671.4 575.8,672.4 577.5,668.2 579.2,683.5 581.0,676.6 583.0,666.3 585.0,654.5 587.0,652.3 588.8,656.4 590.6,661.3 592.4,658.4 594.1,666.4 595.9,676.1 597.7,670.0 599.5,661.9 601.2,664.8 603.0,667.7 604.7,663.2 606.5,651.4 608.2,637.0 610.0,644.1 611.8,649.9 613.6,647.7 615.4,640.0 617.2,636.7 619.0,640.4 620.8,644.2 622.6,647.9 624.4,637.6 626.2,637.5 628.0,635.1 629.9,634.8 631.8,631.9 633.7,623.7 635.6,624.2 637.5,626.2 639.5,611.6 641.6,606.9 643.6,604.7 645.4,609.5 647.3,594.1 649.1,600.2 651.0,597.9 652.8,588.8 654.6,594.2 656.5,585.1 658.3,593.4 660.2,603.9 662.0,598.1 663.8,598.3 665.6,599.4 667.4,596.3 669.2,580.3 671.0,575.2 672.6,555.3 674.2,546.7 675.8,536.5 677.9,550.1 680.0,576.2 681.7,561.7 683.3,546.8 685.0,533.3 686.9,535.1 688.8,550.0 690.7,552.5 692.6,561.9 694.5,544.0 696.3,545.3 698.1,535.3 700.0,510.3 702.0,521.6 704.0,510.7 706.0,520.1 708.0,522.2 710.2,542.8 712.5,544.8 714.0,519.0 715.5,490.6 717.6,497.8 719.6,508.2 721.7,519.6 723.5,516.5 725.4,529.5 727.2,535.5 729.0,534.7 730.6,525.2 732.2,536.8 733.9,515.6 735.5,520.3 737.0,531.5 738.5,545.4 740.5,567.0 742.6,571.2 744.6,572.3 746.5,564.2 748.3,571.5 750.1,557.5 752.0,552.7 753.5,562.8 755.0,577.3 757.0,585.4 759.0,584.5 761.0,594.7 763.0,593.1 764.8,603.7 766.6,610.2 768.4,610.4 770.2,626.9 772.0,629.3 774.0,634.1 776.0,635.2 778.0,639.7 779.9,650.5 781.8,648.8 783.7,651.3 785.6,663.6 787.5,665.0 789.3,671.4 791.2,674.4 793.0,660.0 794.9,673.1 796.7,667.9 798.9,683.0 801.0,703.8 802.8,695.6 804.6,669.1 806.5,681.3 808.3,678.4 810.1,695.6 812.0,688.7 813.8,694.1 815.6,681.3 817.4,689.6 819.2,692.1 821.0,690.1 822.7,700.6 824.3,705.7 826.0,713.0 827.9,712.0 829.9,707.7 831.8,702.3 833.7,697.6 835.6,705.9 837.4,715.2 839.3,714.4 841.1,725.0 843.0,725.4 844.8,717.5 846.6,722.9 848.4,711.1 850.2,717.3 852.0,711.5 854.0,723.7 856.0,732.1 858.0,733.9 860.0,724.9 862.0,713.6 864.0,712.2 865.8,720.4 867.6,711.5 869.4,710.2 871.1,722.9 872.9,727.7 874.7,715.4 876.5,719.4 878.3,719.2 880.0,731.9 881.8,741.5 883.5,733.7 885.3,748.5 887.0,737.6 888.8,747.7 890.9,744.3 892.9,741.4 895.0,728.9 896.9,738.5 898.8,737.7 900.6,743.8 902.5,752.2 904.3,738.8 906.0,739.4 907.8,739.2 909.5,742.0 911.3,729.5 913.0,727.2 914.8,733.9 916.7,728.6 918.6,720.4 920.5,724.5 922.4,717.5 924.3,731.3 926.2,735.7 928.1,746.3 930.0,749.6 932.0,742.0 934.0,731.0 936.0,720.6 938.0,724.9 940.0,739.9 941.9,731.3 943.9,737.5 945.8,737.2 947.7,733.1 949.6,729.3 951.5,742.1 953.8,727.7 956.0,710.7 957.8,717.5 959.6,711.9 961.4,719.6 963.2,730.4 965.0,727.8 966.8,720.0 968.7,726.7 970.5,719.9 972.3,710.6 974.2,716.0 976.0,720.1 977.5,713.3 979.0,700.7 981.0,699.0 983.0,678.8 984.7,689.2 986.3,696.7 988.0,699.7 989.6,697.5 991.2,692.2 992.8,676.2 994.4,672.8 995.9,680.4 997.5,674.4 999.0,684.1 1000.5,645.2 1002.8,646.7 1005.0,655.6 1006.5,640.4 1008.0,614.1 1009.6,605.5 1011.1,618.6 1012.7,615.5 1014.2,620.2 1015.8,642.2 1017.3,651.9 1018.9,677.2 1021.1,688.7 1023.4,712.2 1024.9,717.0 1026.5,727.4 1028.0,727.6 1030.0,733.1 1032.0,737.5 1034.0,732.8 1036.0,720.4 1037.9,713.1 1039.8,720.9 1041.8,710.9 1043.9,714.7 1045.9,724.9 1048.0,723.1 1050.2,715.0 1052.5,710.7 1054.4,716.9 1056.2,731.2 1058.1,735.2 1060.0,727.1 1061.9,717.3 1063.8,721.2 1065.6,725.6 1067.5,720.1 1069.4,711.1 1071.3,697.9 1073.2,699.5 1075.1,709.7 1077.0,702.4 1079.0,698.9 1081.0,711.3 1083.0,696.8 1084.6,708.5 1086.1,723.5 1087.7,725.0 1089.7,736.9 1091.8,730.7 1093.8,742.0 1095.6,752.2 1097.5,736.5 1099.3,743.7 1101.2,756.1 1103.0,744.1 1104.5,748.8 1106.1,744.1 1107.6,732.6 1109.4,749.4 1111.3,749.9 1113.2,741.6 1115.0,758.5 1117.0,756.1 1119.0,742.8 1121.0,733.3 1122.7,744.1 1124.5,740.5 1126.2,744.0 1128.0,731.1 1129.7,739.5 1131.5,746.4 1133.2,745.2 1135.0,734.5 1136.7,739.7 1138.6,738.6 1140.4,736.8 1142.3,745.6 1144.1,742.5 1146.0,727.0 1147.8,737.5 1149.6,731.0 1151.4,748.6 1153.2,745.0 1155.0,751.5 1156.7,752.6 1158.4,750.0 1160.1,731.7 1161.9,726.5 1163.6,737.6 1165.3,728.4 1167.0,728.8 1168.5,735.6 1170.0,746.6 1171.8,750.4 1173.6,741.3 1175.4,742.1 1177.2,738.3 1179.0,742.1 1180.8,728.2 1182.6,734.6 1184.6,734.6 1186.7,734.7 1188.7,733.0 1190.8,738.7 1193.0,758.2 1195.0,754.6 1197.0,745.2 1199.0,745.7 1201.0,740.0 1202.8,737.4 1204.6,717.7 1206.4,728.1 1208.2,710.3 1210.0,701.1 1211.6,707.4 1213.1,722.1 1214.7,732.6 1216.5,742.8 1218.3,734.7 1220.1,746.5 1221.9,734.8 1223.7,737.2 1225.5,745.9 1227.5,745.4 1229.6,743.9 1231.6,728.1 1233.3,724.7 1235.1,738.6 1236.8,732.8 1238.6,729.5 1240.3,730.6 1242.1,736.5 1243.8,739.5 1245.6,741.0 1247.5,743.8 1249.3,723.7 1251.2,732.6 1253.0,723.9 1254.8,728.5 1256.6,729.2 1258.4,725.8 1260.2,708.3 1262.0,716.2 1264.0,727.0 1265.9,726.8 1267.8,727.5 1269.8,747.1 1271.7,737.9 1273.7,731.3 1275.6,722.0 1277.5,710.1 1279.8,696.2 1282.0,707.4 1283.9,715.6 1285.8,707.1 1287.8,719.2 1289.7,721.4 1291.2,707.9 1292.8,700.0 1294.6,706.7 1296.5,713.4 1298.3,709.1 1300.2,717.9 1302.0,721.5 1304.0,722.6 1306.0,741.5 1308.0,737.8 1309.8,738.4 1311.6,738.3 1313.4,724.9 1315.2,717.5 1317.0,714.8 1318.6,718.8 1320.2,723.8 1321.8,728.8 1323.4,732.4 1325.2,730.8 1327.1,717.3 1328.9,712.1 1330.8,710.1 1332.6,708.8 1334.4,705.7 1336.3,709.3 1338.1,726.6 1340.0,728.2 1341.8,728.2 1343.6,740.3 1345.5,723.6 1347.3,731.1 1349.2,722.0 1351.0,729.3 1352.7,722.1 1354.4,726.0 1356.1,728.1 1357.9,724.9 1359.6,715.8 1361.3,714.3 1363.0,717.8 1365.0,723.5 1367.0,733.3 1369.0,730.7 1370.6,720.2 1372.2,713.0 1373.9,723.0 1375.5,707.5 1377.3,714.6 1379.1,707.5 1381.0,716.2 1382.8,708.7 1384.6,708.2 1386.6,701.8 1388.7,722.8 1390.7,718.8 1392.4,708.2 1394.2,721.8 1395.9,706.6 1397.6,712.3 1399.3,696.9 1401.0,702.7 1402.8,700.5 1404.5,698.0 1406.2,708.1 1408.0,700.4 1409.8,716.0 1411.5,704.0 1413.2,723.3 1415.0,714.9 1417.0,711.2 1419.0,706.9 1421.0,690.8 1422.9,695.5 1424.8,679.5 1426.7,696.5 1428.6,677.4 1430.5,687.8 1432.3,695.0 1434.2,696.3 1436.0,698.0 1437.9,698.1 1439.7,703.4 1441.7,687.7 1443.8,700.0 1445.8,689.7 1447.9,692.5 1450.0,713.4 1451.8,703.1 1453.5,687.0 1455.2,694.7 1457.0,681.3 1459.0,699.0 1461.0,703.4 1462.9,716.4 1464.8,723.0 1466.7,719.9 1468.6,726.9 1470.4,729.5 1472.3,725.2 1474.2,728.0 1476.1,719.4 1478.0,729.3 1480.0,685.8 1481.7,684.8 1483.4,688.8 1485.1,690.7 1486.9,686.6 1488.6,691.7 1490.3,697.2 1492.0,701.6 1493.8,694.9 1495.5,713.5 1497.3,717.0 1499.0,706.6 1500.8,717.1 1502.6,722.3 1504.3,703.5 1506.1,718.0 1507.8,719.8 1509.6,715.1 1511.3,726.5 1513.1,722.1 1514.8,713.6 1516.6,711.5 1518.3,716.5 1520.0,695.8 1521.8,713.3 1523.5,702.8 1525.3,695.4 1527.0,695.1 1528.9,697.9 1530.8,686.2 1532.7,702.5 1534.6,691.4 1536.4,702.0 1538.3,702.2 1540.2,697.3 1542.1,679.7 1544.0,684.9 1545.8,695.9 1547.6,708.2 1549.4,705.4 1551.2,703.9 1553.0,715.7 1554.8,704.1 1556.5,700.2 1558.2,689.9 1560.0,689.4 1561.7,689.4 1563.3,679.9 1565.0,695.4 1566.7,692.3 1568.3,689.4 1570.0,700.0 1572.0,679.4 1574.0,675.4 1576.0,677.3 1578.0,698.5 1579.9,685.6 1581.9,692.3 1583.8,700.1 1585.7,696.0 1587.7,699.4 1589.6,695.9 1591.3,700.1 1593.1,693.8 1594.8,712.2 1596.5,708.0 1598.3,695.3 1600.0,713.0 1601.7,695.2 1603.3,695.3 1605.0,695.1 1606.7,695.2 1608.3,671.9 1610.0,671.6 1611.8,674.7 1613.6,679.0 1615.4,674.0 1617.2,680.2 1619.0,687.3 1620.8,665.4 1622.6,673.8 1624.4,683.4 1626.2,684.2 1628.0,682.5 1629.7,673.1 1631.4,671.0 1633.1,681.0 1634.8,684.9 1636.6,684.2 1638.3,677.9 1640.0,668.1 1641.7,679.4 1643.5,665.2 1645.2,653.8 1647.0,647.3 1648.7,649.6 1650.5,644.5 1652.2,642.7 1654.0,635.1 1655.7,652.1 1657.3,671.1 1659.0,680.2 1660.8,683.4 1662.5,672.6 1664.2,668.2 1666.0,653.8 1667.8,656.4 1669.5,665.9 1671.2,664.0 1673.0,657.0 1674.8,673.8 1676.5,660.0 1678.2,664.4 1680.0,680.0 1681.8,673.5 1683.5,672.8 1685.2,689.1 1687.0,684.4 1688.7,673.1 1690.4,683.5 1692.2,686.0 1693.9,687.0 1695.7,700.1 1697.4,690.8 1699.1,689.9 1700.9,711.1 1702.6,705.9 1704.3,690.6 1706.1,686.6 1707.8,665.7 1709.5,667.9 1711.2,651.4 1712.9,646.5 1714.6,643.1 1716.3,642.4 1718.0,639.9 1719.8,635.7 1721.5,648.4 1723.2,661.3 1725.0,660.7 1726.8,646.7 1728.5,662.0 1730.2,669.6 1732.0,665.0 1733.8,679.6 1735.5,672.1 1737.2,664.0 1739.0,660.4 1740.8,660.7 1742.5,652.3 1744.2,654.0 1746.0,649.7 1747.8,647.0 1749.7,651.0 1751.5,642.2 1753.4,656.5 1755.2,648.6 1757.1,650.4 1758.9,648.8 1760.8,664.2 1762.6,658.1 1764.5,662.2 1766.3,661.6 1768.2,664.5 1770.0,661.8 1771.8,654.2 1773.6,663.0 1775.3,658.5 1777.1,641.3 1778.9,637.5 1780.7,639.1 1782.5,646.2 1784.2,631.1 1786.0,625.6 1787.8,627.9 1789.5,630.4 1791.2,635.2 1793.0,629.5 1794.7,633.2 1796.4,649.0 1798.1,645.3 1799.8,634.1 1801.6,642.7 1803.3,635.9 1805.0,651.8 1806.8,639.2 1808.5,654.2 1810.3,636.1 1812.0,635.3 1813.8,637.1 1815.6,635.6 1817.3,635.0 1819.1,635.2 1820.8,634.5 1822.6,631.0 1824.3,639.5 1826.1,641.7 1827.8,631.1 1829.6,629.7 1831.3,628.0 1833.0,632.2 1834.8,640.9 1836.5,644.2 1838.3,652.4 1840.0,646.4 1841.8,625.7 1843.5,619.4 1845.2,609.2 1847.0,602.6 1848.5,617.4 1850.0,650.2 1851.8,654.0 1853.6,646.3 1855.4,611.2 1857.2,609.1 1859.0,605.7 1860.8,626.6 1862.5,614.1 1864.2,632.2 1866.0,647.8 1867.7,649.0 1869.5,630.6 1871.2,638.5 1873.0,641.5 1874.7,624.4 1876.5,643.5 1878.2,636.8 1880.0,626.5 1881.7,626.4 1883.4,614.9 1885.1,635.3 1886.8,613.1 1888.6,621.9 1890.3,622.7 1892.0,616.2 1893.8,619.7 1895.5,601.6 1897.2,609.1 1899.0,597.0 1900.8,620.7 1902.6,632.3 1904.5,625.0 1906.4,629.6 1908.2,625.4 1910.1,604.2 1912.0,611.0 1914.2,586.8 1916.5,577.5 1918.2,598.4 1920.0,596.0 1921.7,623.9 1923.5,595.7 1925.2,588.4 1927.0,581.4 1928.8,580.0 1930.5,605.7 1932.2,592.5 1934.0,611.9 1935.7,626.4 1937.4,623.2 1939.2,610.4 1940.9,622.7 1942.6,625.4 1944.3,599.2 1946.1,611.8 1947.8,580.4 1949.5,596.6 1951.3,587.6 1953.0,584.1 1954.8,573.6 1956.5,571.2 1958.2,581.8 1960.0,601.8 1961.7,585.0 1963.5,602.9 1965.2,613.6 1967.0,631.0 1968.7,627.9 1970.4,626.8 1972.2,609.0 1973.9,590.8 1975.7,594.0 1977.4,564.6 1979.1,580.4 1980.8,562.4 1982.6,567.0 1984.3,568.4 1986.0,582.8 1987.8,602.2 1989.5,612.5 1991.2,618.0 1993.0,623.2 1994.8,611.4 1996.5,608.2 1998.2,597.0 2000.0,594.2 2001.8,597.2 2003.5,580.8 2005.2,603.4 2007.0,580.1 2008.8,600.1 2010.5,575.2 2012.2,574.0 2014.0,593.4 2015.8,589.2 2017.5,597.8 2019.2,615.4 2021.0,608.9 2022.7,613.2 2024.3,615.8 2026.0,600.4 2027.7,582.9 2029.3,581.9 2031.0,592.3 2032.8,583.7 2034.5,603.2 2036.2,606.5 2038.0,611.6 2039.8,600.9 2041.7,586.8 2043.5,579.0 2045.2,591.8 2046.9,588.8 2048.6,595.2 2050.3,620.4 2052.0,629.7 2053.8,623.6 2055.5,603.5 2057.2,613.3 2059.0,591.4 2060.8,593.3 2062.5,592.0 2064.3,598.0 2066.0,606.0 2067.8,620.6 2069.5,597.6 2071.3,590.7 2073.0,561.5 2074.8,588.8 2076.5,607.7 2078.2,614.5 2080.0,629.1 2081.8,614.9 2083.5,615.3 2085.2,608.8 2087.0,606.4 2088.7,616.9 2090.5,594.8 2092.2,608.3 2094.0,597.7 2095.7,583.8 2097.5,592.1 2099.2,598.9 2101.0,607.2 2102.7,622.4 2104.4,615.7 2106.2,613.8 2107.9,618.3 2109.6,615.8 2111.3,605.6 2113.0,610.8 2114.6,620.5 2116.3,618.1 2118.0,601.3 2119.8,617.5 2121.6,626.9 2123.4,629.0 2125.2,643.9 2127.0,634.3 2128.8,620.4 2130.5,619.6 2132.2,601.8 2134.0,612.8 2135.5,620.2 2137.0,638.0" stroke="#0000ff"/>
<polyline points="189.0,20.0 190.0,150.0 191.6,300.0 192.5,331.0 198.0,300.3 199.8,304.3 201.5,316.8 203.2,325.4 205.0,342.6 206.7,337.7 208.4,338.6 210.2,324.1 211.9,309.2 213.6,302.1 215.6,317.2 217.7,320.2 219.7,329.7 221.2,325.3 222.7,304.2 224.5,297.8 226.3,299.6 228.1,302.6 229.9,322.5 231.7,308.1 233.5,319.8 235.2,321.2 236.9,295.8 238.6,296.1 240.3,291.2 242.0,289.2 243.7,276.4 245.4,275.5 247.1,273.0 248.8,271.2 250.3,289.8 251.8,300.2 253.4,272.7 254.9,246.4 256.8,223.3 258.6,189.4 260.6,203.8 262.5,212.8 264.6,211.9 266.6,198.8 268.7,187.9 270.4,181.7 272.2,169.4 273.9,168.2 275.4,186.7 276.9,194.8 278.8,127.3 280.5,131.4 282.1,127.9 283.8,108.2 285.5,110.1 287.5,110.0 289.6,107.9 291.6,122.1 293.5,97.2 295.3,69.4 297.0,145.9 298.9,148.8 300.8,159.4 303.2,235.1 305.4,234.3 307.5,239.4 309.1,250.3 310.6,256.0 312.4,320.9 314.2,315.6 316.0,328.9 317.6,357.6 319.6,350.3 321.6,353.4 323.5,381.7 325.3,400.0 327.2,389.0 329.2,398.9 331.1,384.2 333.1,373.2 335.0,384.2 336.9,394.9 338.8,393.3 340.6,379.0 342.5,401.6 344.4,401.7 346.2,383.5 348.1,407.2 350.0,388.0 351.8,377.8 353.7,393.6 355.5,406.3 357.4,397.9 359.2,396.7 361.1,395.3 362.9,389.0 364.8,390.1 366.6,394.2 368.5,399.8 370.3,413.8 372.2,384.9 374.0,395.8 375.9,415.2 377.7,405.6 379.6,386.0 381.4,398.6 383.3,405.8 385.1,414.9 387.0,386.9 388.9,414.8 390.7,410.5 392.6,393.9 394.4,402.7 396.3,412.8 398.1,393.1 400.0,405.4 401.8,404.0 403.5,387.4 405.3,394.1 407.1,398.8 408.8,389.5 410.6,416.7 412.4,393.1 414.1,392.4 415.9,404.8 417.6,402.3 419.4,395.2 421.2,395.4 422.9,401.1 424.7,415.1 426.5,386.8 428.2,415.1 430.0,408.4 431.8,406.7 433.6,410.2 435.5,395.4 437.3,414.5 439.1,406.5 440.9,404.1 442.7,395.4 444.5,387.1 446.4,402.6 448.2,403.6 450.0,386.6 451.8,387.6 453.6,394.2 455.3,382.2 457.1,378.4 458.9,379.4 460.7,372.5 462.4,375.1 464.2,383.3 466.0,386.0 467.8,390.5 469.6,379.1 471.5,372.8 473.3,399.6 475.1,389.6 476.9,391.0 478.8,391.2 480.6,378.5 482.4,387.6 484.2,378.1 486.1,389.3 487.9,394.7 489.7,367.3 491.5,393.6 493.4,370.3 495.2,366.7 497.0,375.8 498.8,383.3 500.7,390.1 502.5,390.3 504.3,365.4 506.2,371.7 508.0,378.6 509.8,378.6 511.5,371.8 513.2,349.4 515.0,348.6 517.0,336.8 519.0,335.6 521.0,336.6 523.0,352.6 525.0,354.1 527.0,350.1 528.8,350.4 530.6,363.5 532.4,381.7 534.2,374.2 536.0,384.3 537.8,384.1 539.6,388.1 541.4,375.1 543.2,369.9 545.0,371.4 546.9,379.5 548.7,362.2 550.6,358.1 552.4,375.8 554.3,363.6 556.1,366.8 558.0,356.1 559.9,345.4 561.8,349.0 563.6,353.3 565.5,339.5 567.4,344.8 569.2,363.0 571.1,346.0 573.0,338.6 574.8,353.7 576.6,337.4 578.3,332.2 580.1,344.8 581.9,344.3 583.7,332.7 585.4,343.0 587.2,346.6 589.0,331.6 590.9,330.8 592.8,312.9 594.6,327.4 596.5,315.3 598.4,322.9 600.2,323.0 602.1,307.3 604.0,311.5 605.9,320.4 607.8,295.3 609.6,312.3 611.5,300.8 613.4,312.9 615.2,284.9 617.1,292.4 619.0,288.9 620.9,284.5 622.8,301.2 624.6,288.2 626.5,280.7 628.4,296.6 630.2,267.1 632.1,263.8 634.0,280.0 635.8,273.6 637.6,277.8 639.3,263.6 641.1,272.9 642.9,250.4 644.7,243.2 646.4,258.7 648.2,244.1 650.0,232.0 652.2,230.3 654.5,243.7 656.8,222.9 659.0,183.1 661.0,183.7 663.0,228.8 664.9,234.3 666.8,227.1 668.7,224.3 670.6,217.2 672.4,228.6 674.3,214.2 676.2,238.5 678.1,222.6 680.0,222.0 681.8,236.2 683.6,237.6 685.3,215.5 687.1,194.8 688.9,212.5 690.7,229.3 692.4,195.2 694.2,196.1 696.0,200.8 697.9,194.4 699.8,221.9 701.6,209.9 703.5,189.9 705.4,210.3 707.2,219.5 709.1,189.5 711.0,205.0 712.8,190.8 714.6,223.2 716.3,210.7 718.1,194.1 719.9,205.9 721.7,204.5 723.4,222.9 725.2,217.5 727.0,220.2 728.9,214.9 730.8,202.3 732.6,216.3 734.5,231.2 736.4,227.5 738.2,230.5 740.1,211.6 742.0,217.5 743.9,240.1 745.8,237.8 747.6,235.3 749.5,249.3 751.4,219.1 753.2,238.7 755.1,218.3 757.0,230.3 758.5,259.7 760.0,253.3 762.2,278.9 764.5,304.3 766.4,286.7 768.2,269.2 770.1,280.6 772.0,259.6 774.0,266.4 776.0,279.5 778.0,286.5 780.0,309.3 781.9,329.8 783.7,317.2 785.6,323.7 787.4,307.5 789.3,325.4 791.1,321.4 793.0,326.4 794.8,314.6 796.7,321.3 798.8,326.4 800.9,325.8 803.0,347.5 804.7,337.6 806.4,350.3 808.1,341.1 809.9,336.8 811.6,338.4 813.3,334.2 815.0,331.4 817.0,336.2 819.0,347.2 821.0,370.9 822.6,355.5 824.2,340.7 825.9,341.4 827.5,337.5 829.3,344.6 831.1,356.5 832.9,349.7 834.6,368.7 836.4,353.6 838.2,362.5 840.0,375.6 841.8,382.6 843.6,381.2 845.4,392.9 847.2,391.4 849.0,388.5 850.9,387.0 852.8,388.0 854.7,375.0 856.6,372.2 858.5,386.8 860.4,390.7 862.2,410.3 864.1,417.5 866.0,413.4 867.7,406.4 869.4,410.7 871.1,417.5 872.8,418.4 874.5,419.8 876.2,413.3 877.9,419.1 879.6,423.7 881.4,429.1 883.3,413.8 885.1,423.9 887.0,417.1 888.8,421.5 890.7,427.8 892.6,422.5 894.5,439.2 896.4,438.6 898.2,447.8 899.9,430.5 901.7,437.4 903.5,442.4 905.2,438.0 907.0,441.8 908.8,442.3 910.6,432.4 912.4,443.7 914.2,428.7 916.0,433.1 917.7,448.1 919.3,436.2 921.0,456.1 922.9,443.9 924.7,449.0 926.6,440.6 928.4,457.4 930.3,442.8 932.1,446.3 934.0,455.4 935.8,436.2 937.7,438.4 939.6,446.5 941.5,431.5 943.4,432.5 945.4,434.6 947.3,428.5 949.2,435.0 951.1,428.0 953.0,441.7 954.7,437.2 956.4,426.7 958.1,442.5 959.9,431.2 961.6,445.4 963.3,426.8 965.0,432.8 966.9,431.1 968.8,438.0 970.7,437.3 972.6,434.9 974.5,418.4 976.4,414.9 978.2,421.6 980.1,416.8 982.0,410.8 983.6,404.0 985.1,410.3 986.7,426.6 988.9,415.4 991.0,390.1 992.6,382.3 994.2,384.3 995.8,375.2 997.4,376.3 998.9,359.7 1000.5,361.7 1002.0,344.2 1003.5,341.8 1005.1,327.6 1006.6,321.8 1008.8,336.7 1011.0,354.8 1012.5,371.1 1014.0,401.9 1015.5,414.4 1017.0,423.3 1019.0,423.2 1021.0,429.8 1023.0,437.4 1025.0,439.3 1026.8,429.0 1028.6,434.3 1030.3,433.1 1032.1,431.2 1033.9,424.8 1035.7,415.5 1037.7,429.5 1039.8,428.2 1041.8,433.7 1043.7,434.0 1045.7,419.9 1047.6,414.5 1049.5,424.7 1051.8,436.0 1054.0,437.7 1056.0,424.9 1058.0,425.0 1060.0,420.2 1061.6,419.4 1063.2,441.1 1064.8,444.3 1066.9,439.1 1068.9,420.7 1071.0,412.6 1073.0,412.9 1075.0,429.9 1077.0,432.4 1079.0,431.5 1081.0,442.5 1083.0,464.7 1084.8,453.2 1086.7,465.4 1088.5,464.0 1090.3,457.8 1092.2,440.5 1094.0,441.6 1096.0,461.4 1098.0,460.6 1100.0,463.1 1101.9,457.4 1103.8,462.6 1105.6,460.8 1107.5,453.5 1109.4,474.7 1111.2,453.0 1113.1,459.8 1115.0,469.2 1116.8,474.3 1118.6,475.8 1120.5,458.4 1122.3,456.5 1124.1,471.2 1125.9,477.4 1127.7,475.5 1129.5,475.9 1131.4,465.7 1133.2,475.7 1135.0,475.5 1136.9,472.5 1138.8,457.1 1140.6,478.7 1142.5,453.1 1144.4,452.1 1146.2,461.0 1148.1,463.2 1150.0,474.5 1151.9,474.4 1153.8,464.7 1155.7,469.0 1157.6,463.9 1159.4,479.2 1161.3,470.1 1163.2,461.8 1165.1,480.0 1167.0,471.0 1168.7,462.2 1170.5,479.0 1172.2,449.2 1173.9,474.5 1175.7,460.0 1177.4,460.3 1179.1,471.9 1180.9,456.9 1182.6,457.2 1184.4,450.8 1186.2,462.1 1188.0,462.6 1189.8,461.1 1191.5,447.4 1193.3,465.6 1195.1,455.3 1196.9,445.1 1198.7,447.2 1200.5,444.7 1202.3,444.8 1204.1,454.2 1205.8,460.0 1207.6,458.2 1209.4,464.9 1211.2,465.0 1213.0,453.6 1214.7,470.6 1216.3,481.4 1218.0,480.1 1219.8,485.2 1221.5,474.3 1223.2,475.6 1225.0,473.3 1226.8,472.3 1228.5,458.1 1230.2,446.4 1231.9,445.3 1233.7,461.4 1235.4,458.1 1237.1,463.6 1238.8,445.6 1240.6,461.6 1242.3,465.5 1244.0,451.7 1245.7,439.6 1247.4,453.5 1249.1,435.9 1250.9,452.8 1252.6,451.5 1254.3,438.6 1256.0,445.3 1257.6,445.0 1259.1,464.8 1260.7,461.8 1262.4,466.2 1264.1,446.2 1265.8,448.1 1267.6,445.5 1269.3,454.2 1271.0,444.2 1272.9,429.1 1274.7,437.8 1276.6,447.2 1278.5,450.1 1280.3,436.0 1282.2,427.6 1284.1,443.2 1286.0,427.2 1287.8,437.1 1289.7,431.6 1291.5,425.8 1293.2,427.6 1295.0,440.8 1296.7,434.2 1298.5,452.6 1300.2,458.4 1302.0,458.0 1304.0,449.0 1306.0,446.3 1308.0,441.8 1309.7,433.5 1311.4,442.2 1313.1,432.2 1314.9,446.9 1316.6,456.4 1318.3,440.3 1320.0,448.4 1321.8,436.7 1323.6,458.3 1325.5,433.5 1327.3,438.1 1329.1,442.0 1330.9,450.7 1332.8,444.6 1334.6,432.4 1336.4,446.5 1338.2,431.4 1340.1,437.8 1341.9,453.7 1343.7,441.9 1345.5,428.2 1347.4,433.9 1349.2,434.5 1351.0,435.8 1352.9,447.4 1354.8,435.5 1356.6,446.7 1358.5,444.3 1360.4,453.4 1362.2,440.3 1364.1,432.3 1366.0,447.8 1367.7,447.0 1369.5,432.6 1371.2,443.4 1372.9,434.3 1374.7,455.6 1376.4,443.6 1378.1,449.3 1379.9,444.1 1381.6,441.4 1383.6,444.1 1385.7,417.5 1387.7,422.7 1389.8,447.0 1392.0,458.8 1394.0,461.6 1396.0,436.0 1398.0,437.2 1400.0,422.1 1401.7,422.6 1403.4,431.9 1405.1,434.9 1406.9,435.9 1408.6,419.5 1410.3,425.2 1412.0,420.0 1413.8,430.2 1415.6,424.0 1417.4,418.8 1419.2,417.8 1421.0,413.8 1422.7,398.6 1424.3,396.0 1426.0,390.5 1428.2,390.8 1430.5,412.2 1432.0,399.3 1433.6,397.5 1435.6,403.0 1437.7,422.3 1439.7,420.3 1441.6,413.2 1443.4,415.8 1445.3,409.4 1447.1,421.4 1449.0,421.1 1450.7,420.5 1452.4,428.5 1454.1,428.4 1455.9,423.1 1457.6,434.0 1459.3,421.6 1461.0,434.1 1462.8,428.7 1464.7,437.5 1466.5,438.6 1468.4,428.5 1470.2,417.8 1472.1,431.3 1473.9,413.8 1475.8,414.6 1477.6,417.4 1479.5,432.0 1481.3,420.2 1483.2,428.2 1485.0,422.0 1486.8,425.3 1488.5,410.9 1490.2,435.8 1492.0,423.7 1493.8,415.2 1495.5,428.6 1497.2,437.5 1499.0,427.9 1500.8,433.3 1502.5,419.7 1504.2,422.6 1506.0,429.7 1507.8,419.4 1509.5,433.9 1511.2,417.4 1513.0,428.7 1514.8,433.7 1516.5,419.4 1518.2,440.9 1520.0,429.8 1521.8,433.3 1523.5,431.9 1525.2,427.3 1527.0,423.5 1528.9,426.7 1530.8,428.1 1532.7,418.1 1534.6,407.8 1536.4,430.7 1538.3,412.5 1540.2,428.4 1542.1,429.1 1544.0,409.2 1545.8,425.0 1547.7,409.8 1549.5,422.7 1551.4,419.8 1553.2,406.2 1555.1,419.2 1556.9,400.5 1558.7,420.8 1560.6,412.2 1562.4,421.7 1564.3,407.7 1566.1,413.4 1567.9,402.1 1569.8,401.0 1571.6,394.3 1573.5,411.5 1575.3,417.3 1577.2,402.4 1579.0,398.3 1580.8,393.5 1582.5,397.1 1584.2,411.5 1586.0,400.4 1587.8,405.1 1589.5,415.8 1591.2,411.4 1593.0,395.3 1594.8,418.8 1596.5,410.5 1598.2,399.5 1600.0,390.4 1601.8,424.5 1603.5,400.0 1605.2,409.9 1607.0,401.2 1608.8,419.7 1610.5,407.6 1612.2,417.7 1614.0,419.2 1615.8,393.6 1617.5,402.4 1619.2,415.0 1621.0,417.3 1622.8,416.7 1624.5,396.3 1626.2,405.8 1628.0,399.8 1629.8,409.5 1631.5,380.2 1633.2,374.8 1635.0,383.4 1636.8,382.7 1638.7,399.3 1640.5,394.6 1642.4,381.3 1644.2,371.8 1646.0,385.9 1647.9,408.9 1649.7,373.4 1651.6,406.4 1653.4,385.8 1655.2,394.4 1657.1,384.3 1658.9,407.9 1660.8,402.2 1662.6,393.4 1664.3,389.3 1666.1,391.7 1667.8,376.9 1669.6,391.8 1671.3,402.0 1673.0,367.9 1674.8,382.8 1676.5,383.1 1678.3,383.6 1680.0,401.2 1681.8,384.0 1683.5,379.2 1685.4,363.8 1687.2,372.4 1689.1,396.1 1691.0,386.2 1692.8,391.6 1694.7,398.7 1696.5,398.0 1698.4,398.2 1700.3,402.0 1702.1,400.0 1704.0,387.3 1705.8,382.8 1707.5,362.5 1709.2,397.1 1711.0,377.3 1712.8,369.2 1714.5,370.1 1716.2,384.5 1718.0,383.9 1719.8,363.4 1721.5,356.8 1723.2,365.4 1725.0,352.8 1726.8,370.8 1728.5,379.4 1730.2,360.1 1732.0,355.5 1733.8,380.0 1735.5,349.0 1737.2,349.1 1739.0,362.2 1740.8,368.3 1742.5,355.0 1744.2,345.2 1746.0,352.3 1747.8,375.0 1749.5,378.6 1751.2,349.1 1753.0,362.9 1754.8,370.2 1756.7,371.4 1758.5,338.4 1760.4,338.8 1762.2,340.5 1764.1,359.4 1765.9,344.5 1767.7,372.7 1769.6,345.6 1771.4,353.3 1773.3,340.4 1775.1,370.6 1776.9,343.2 1778.8,344.7 1780.6,345.5 1782.5,341.2 1784.3,336.1 1786.2,364.4 1788.0,343.8 1789.8,343.4 1791.7,331.6 1793.5,352.0 1795.4,349.4 1797.2,365.3 1799.0,329.0 1800.9,365.3 1802.7,331.6 1804.6,340.2 1806.4,361.9 1808.2,359.0 1810.1,360.0 1811.9,330.2 1813.8,328.4 1815.6,338.7 1817.3,336.0 1819.1,347.5 1820.8,326.4 1822.6,348.9 1824.3,326.8 1826.1,340.5 1827.8,350.6 1829.5,340.1 1831.3,359.4 1833.0,361.7 1834.8,357.5 1836.5,351.6 1838.3,351.1 1840.0,355.9 1841.9,367.5 1843.8,372.5 1845.7,339.7 1847.6,363.7 1849.4,358.0 1851.3,348.2 1853.2,342.2 1855.1,356.1 1857.0,353.2 1858.8,341.5 1860.5,316.8 1862.2,343.2 1864.0,322.7 1865.8,317.6 1867.5,338.9 1869.2,323.0 1871.0,346.1 1872.8,327.1 1874.5,348.1 1876.2,308.5 1878.0,350.4 1879.8,336.2 1881.5,304.2 1883.2,314.3 1885.0,334.4 1886.8,338.9 1888.5,302.9 1890.3,338.1 1892.0,320.5 1893.8,320.9 1895.5,338.5 1897.3,307.7 1899.1,330.2 1900.8,314.5 1902.6,341.1 1904.3,344.5 1906.1,344.6 1907.8,308.9 1909.6,313.7 1911.3,319.2 1913.1,302.8 1914.8,305.7 1916.6,319.4 1918.3,327.7 1920.0,317.3 1921.8,336.1 1923.5,322.3 1925.3,331.2 1927.0,309.9 1928.9,300.7 1930.7,329.4 1932.6,311.8 1934.4,313.9 1936.3,291.0 1938.1,288.6 1940.0,284.6 1941.8,290.9 1943.7,298.1 1945.5,302.7 1947.4,319.3 1949.2,304.1 1951.1,303.4 1952.9,307.0 1954.8,312.0 1956.5,328.0 1958.3,336.0 1960.0,301.0 1961.8,310.5 1963.5,313.1 1965.2,324.8 1967.0,312.6 1968.7,313.6 1970.4,339.5 1972.2,309.9 1973.9,328.2 1975.7,322.1 1977.4,291.4 1979.2,300.9 1980.9,312.7 1982.6,320.9 1984.4,330.7 1986.1,292.2 1987.9,283.9 1989.6,311.2 1991.5,322.7 1993.3,283.0 1995.2,296.7 1997.0,288.2 1998.9,290.0 2000.7,292.0 2002.6,295.3 2004.4,294.4 2006.3,285.7 2008.1,286.1 2010.0,298.5 2011.8,291.5 2013.6,289.4 2015.4,269.7 2017.2,281.4 2019.0,287.0 2020.7,267.6 2022.4,266.5 2024.1,281.8 2025.9,271.2 2027.6,276.2 2029.3,279.7 2031.0,303.8 2032.8,300.1 2034.5,288.4 2036.3,295.3 2038.1,287.7 2039.8,294.9 2041.6,295.9 2043.4,278.5 2045.2,279.0 2046.9,310.5 2048.7,292.6 2050.4,289.3 2052.2,297.6 2053.9,282.3 2055.6,277.9 2057.3,308.9 2059.1,287.9 2060.8,299.5 2062.5,317.6 2064.3,307.5 2066.0,303.8 2067.8,304.8 2069.5,292.8 2071.2,314.9 2073.0,292.1 2074.8,312.9 2076.5,314.2 2078.2,308.0 2080.0,303.3 2081.7,271.6 2083.3,299.0 2085.0,265.8 2086.8,308.7 2088.6,304.6 2090.4,336.3 2092.2,320.3 2093.9,320.9 2095.7,314.7 2097.5,336.9 2099.2,324.5 2101.0,316.2 2102.9,299.6 2104.8,343.1 2106.7,304.1 2108.6,323.3 2110.4,321.2 2112.3,344.8 2114.2,322.8 2116.1,354.0 2118.0,349.8 2119.8,341.6 2121.5,345.2 2123.3,341.7 2125.0,340.8 2126.8,335.4 2128.6,320.1 2130.3,316.9 2132.1,340.2 2133.8,316.6 2135.6,338.9" stroke="#00ffff"/>
</g>
<g font-size="58">
<text x="265.6" y="1566.8" text-anchor="middle">2</text>
<text x="473.5" y="1566.8" text-anchor="middle">4</text>
<text x="681.4" y="1566.8" text-anchor="middle">6</text>
<text x="889.3" y="1566.8" text-anchor="middle">8</text>
<text x="1097.2" y="1566.8" text-anchor="middle">10</text>
<text x="1305.1" y="1566.8" text-anchor="middle">12</text>
<text x="1513.0" y="1566.8" text-anchor="middle">14</text>
<text x="1720.9" y="1566.8" text-anchor="middle">16</text>
<text x="1928.8" y="1566.8" text-anchor="middle">18</text>
<text x="2136.7" y="1566.8" text-anchor="middle">20</text>
</g>
<g font-size="52" letter-spacing="0.15">
<text x="214.0" y="92.7">d=4.53nm</text>
<text x="576.3" y="161.5">d=1.54nm</text>
<text x="946.1" y="301.3">d=0.99nm</text>
<text x="599.9" y="479.7">d=1.51nm</text>
<text x="206.0" y="515.5">d=4.53nm</text>
<text x="936.9" y="583.8">d=0.99nm</text>
<text x="205.0" y="860.0">d=4.53nm</text>
<text x="629.0" y="877.7">d=1.48nm</text>
<text x="923.1" y="847.7">d=0.99nm</text>
<text x="927.1" y="1124.0">d=0.99nm</text>
<text x="641.2" y="1175.4">d=1.39nm</text>
<text x="209.6" y="1195.3">d=4.53nm</text>
</g>
<g font-size="70" letter-spacing="1.1">
<text x="1499.9" y="380.1">(d)</text>
<text x="1490.0" y="641.1">(c)</text>
<text x="1488.0" y="905.0">(b)</text>
<text x="1488.0" y="1172.0">(a)</text>
</g>
<g font-size="70">
<text x="940" y="1724.5">2<tspan x="982" class="ser" font-size="65">θ</tspan> <tspan x="1032" class="ser" font-size="67">(</tspan><tspan x="1053" letter-spacing="1.6">deg)</tspan></text>
<text transform="translate(70,965.7) rotate(-90)" letter-spacing="0.55">Intensity (cps)</text>
</g>
</svg>
</body>
</html>
